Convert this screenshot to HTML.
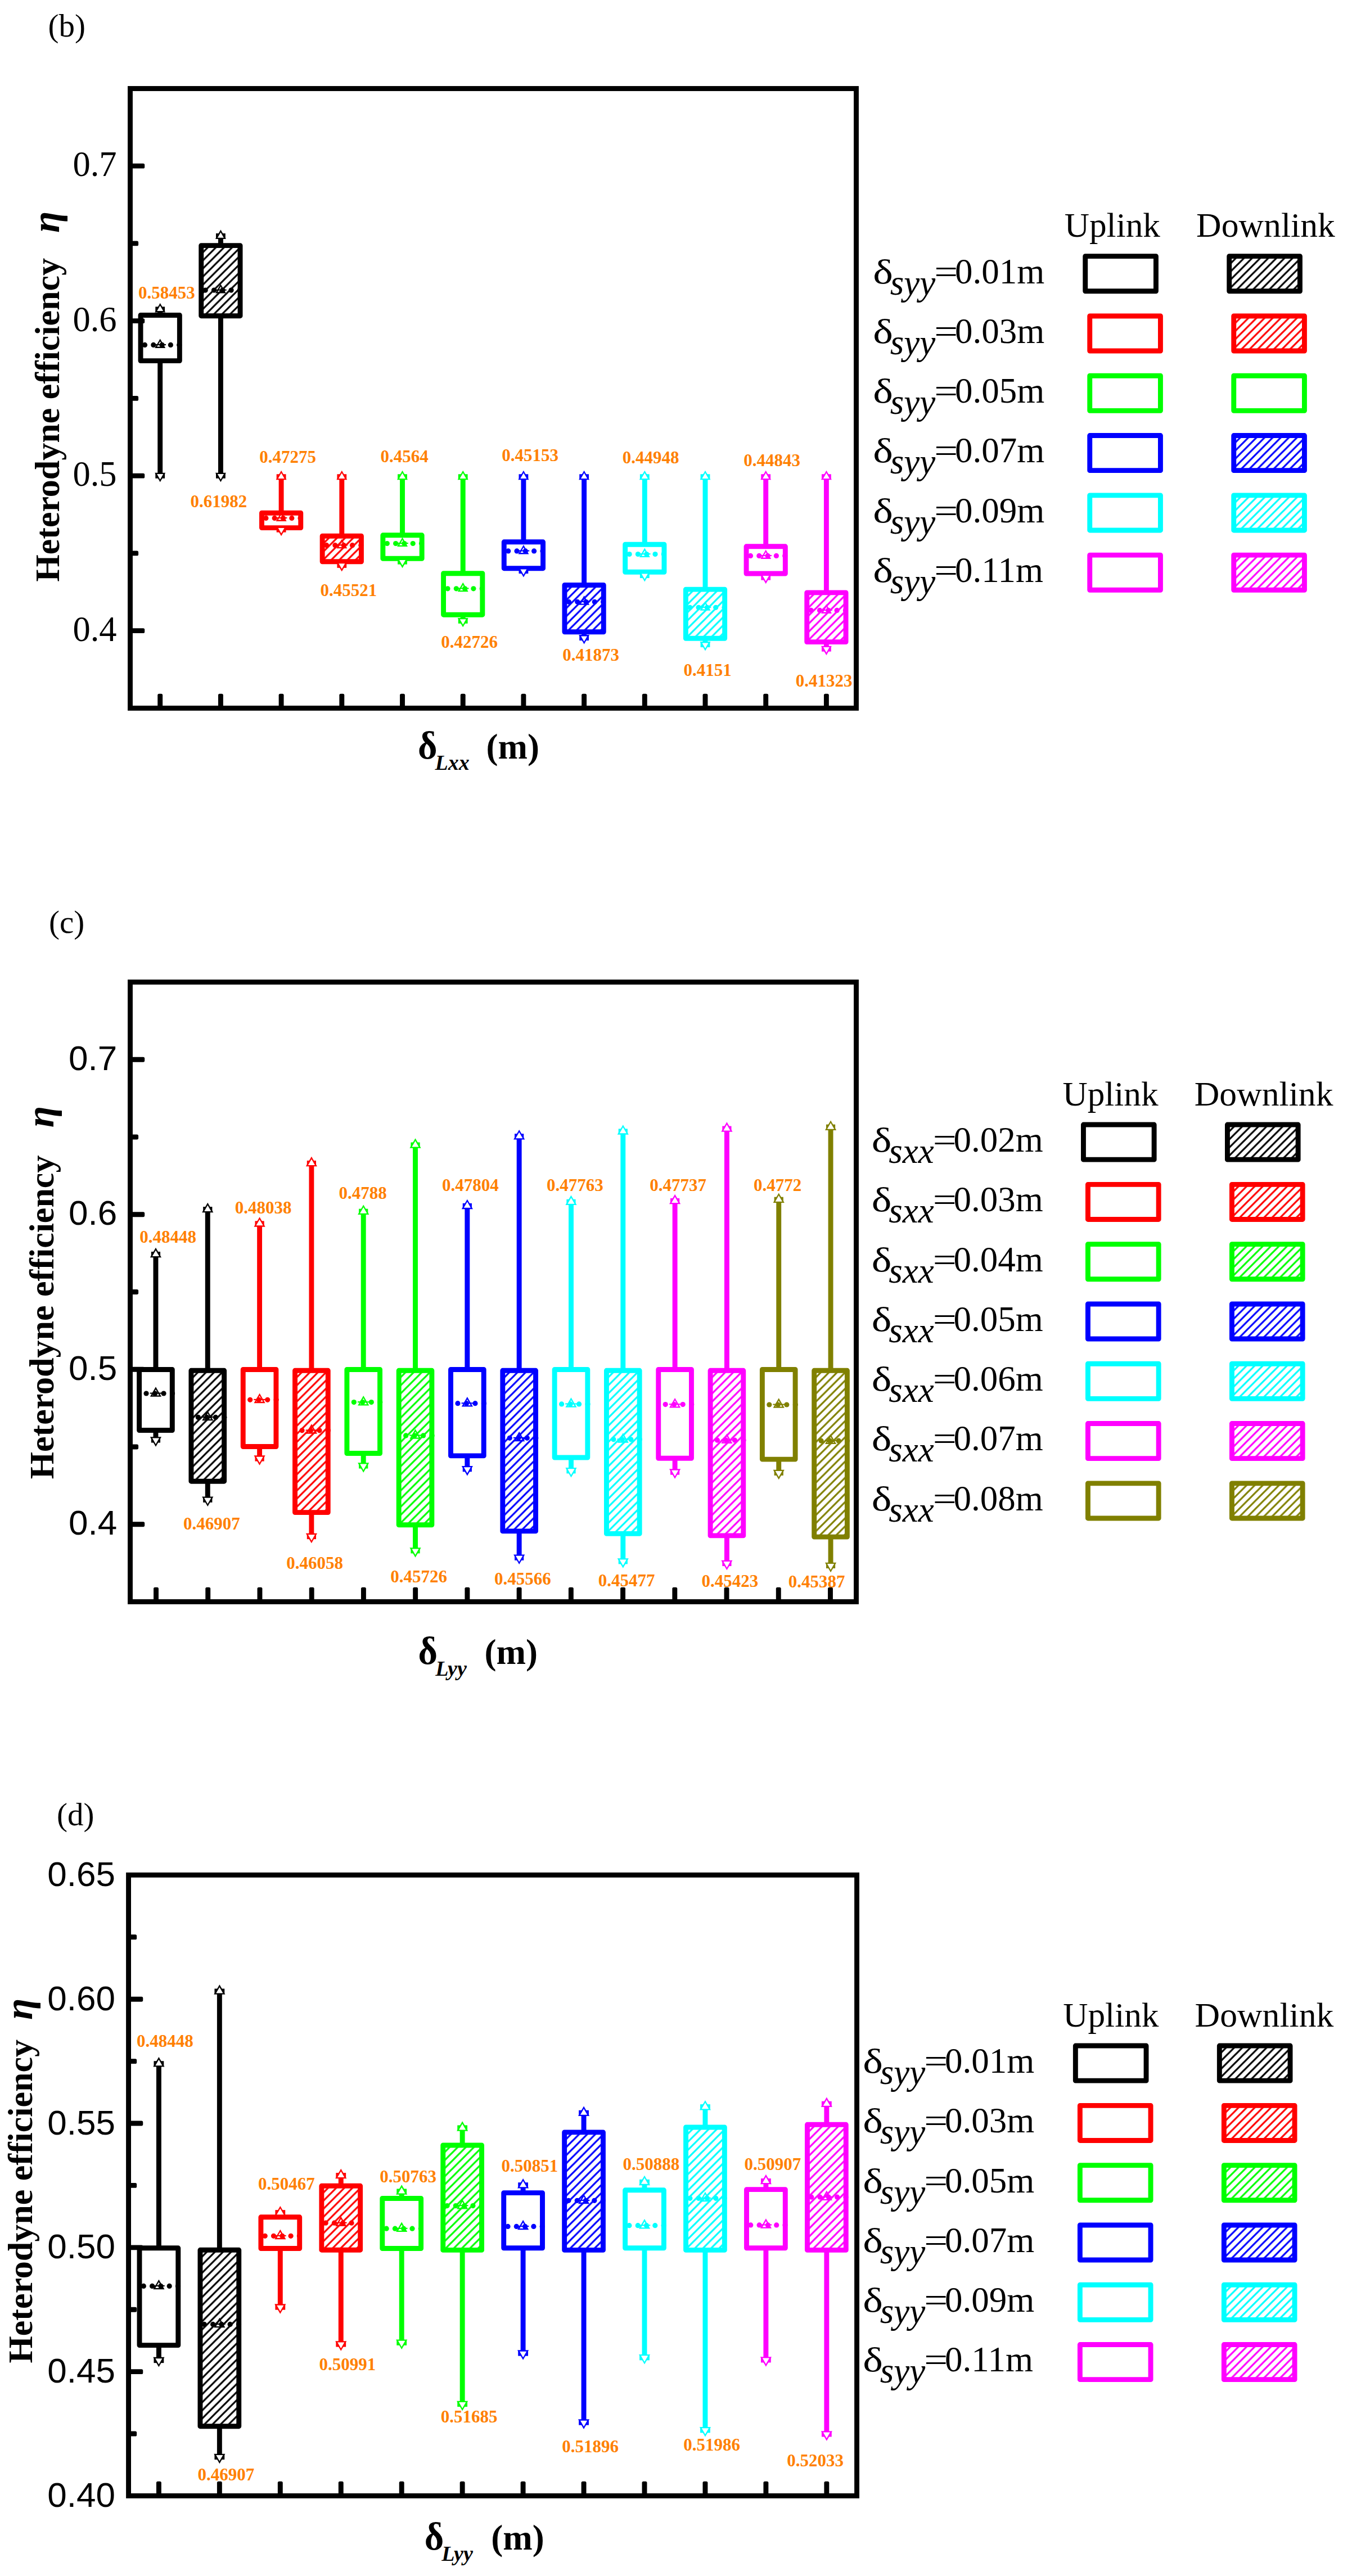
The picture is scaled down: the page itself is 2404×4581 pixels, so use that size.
<!DOCTYPE html>
<html><head><meta charset="utf-8"><title>Heterodyne efficiency box plots</title>
<style>html,body{margin:0;padding:0;background:#fff}svg{display:block}</style></head><body>
<svg width="2404" height="4581" viewBox="0 0 2404 4581">
<defs>
<pattern id="hk" patternUnits="userSpaceOnUse" width="14.4" height="14.4" patternTransform="translate(0.8,0)">
<rect width="14.4" height="14.4" fill="#fff"/>
<path d="M-2,16.4 L16.4,-2 M12.4,16.4 L16.4,12.4 M-2,2 L2,-2" stroke="#000000" stroke-width="3.2" fill="none"/>
</pattern>
<pattern id="hr" patternUnits="userSpaceOnUse" width="14.4" height="14.4" patternTransform="translate(0.8,0)">
<rect width="14.4" height="14.4" fill="#fff"/>
<path d="M-2,16.4 L16.4,-2 M12.4,16.4 L16.4,12.4 M-2,2 L2,-2" stroke="#ff0000" stroke-width="3.2" fill="none"/>
</pattern>
<pattern id="hg" patternUnits="userSpaceOnUse" width="14.4" height="14.4" patternTransform="translate(0.8,0)">
<rect width="14.4" height="14.4" fill="#fff"/>
<path d="M-2,16.4 L16.4,-2 M12.4,16.4 L16.4,12.4 M-2,2 L2,-2" stroke="#00ff00" stroke-width="3.2" fill="none"/>
</pattern>
<pattern id="hb" patternUnits="userSpaceOnUse" width="14.4" height="14.4" patternTransform="translate(0.8,0)">
<rect width="14.4" height="14.4" fill="#fff"/>
<path d="M-2,16.4 L16.4,-2 M12.4,16.4 L16.4,12.4 M-2,2 L2,-2" stroke="#0000ff" stroke-width="3.2" fill="none"/>
</pattern>
<pattern id="hc" patternUnits="userSpaceOnUse" width="14.4" height="14.4" patternTransform="translate(0.8,0)">
<rect width="14.4" height="14.4" fill="#fff"/>
<path d="M-2,16.4 L16.4,-2 M12.4,16.4 L16.4,12.4 M-2,2 L2,-2" stroke="#00ffff" stroke-width="3.2" fill="none"/>
</pattern>
<pattern id="hm" patternUnits="userSpaceOnUse" width="14.4" height="14.4" patternTransform="translate(0.8,0)">
<rect width="14.4" height="14.4" fill="#fff"/>
<path d="M-2,16.4 L16.4,-2 M12.4,16.4 L16.4,12.4 M-2,2 L2,-2" stroke="#ff00ff" stroke-width="3.2" fill="none"/>
</pattern>
<pattern id="ho" patternUnits="userSpaceOnUse" width="14.4" height="14.4" patternTransform="translate(0.8,0)">
<rect width="14.4" height="14.4" fill="#fff"/>
<path d="M-2,16.4 L16.4,-2 M12.4,16.4 L16.4,12.4 M-2,2 L2,-2" stroke="#808000" stroke-width="3.2" fill="none"/>
</pattern>
</defs>
<rect width="2404" height="4581" fill="#fff"/>
<text x="85.5" y="64.6" font-family='"Liberation Serif", serif' font-size="57" font-weight="normal" font-style="normal" text-anchor="start">(b)</text>
<text x="207.5" y="1139.9" font-family='"Liberation Serif", serif' font-size="62.5" font-weight="normal" font-style="normal" text-anchor="end">0.4</text>
<text x="207.5" y="864.4" font-family='"Liberation Serif", serif' font-size="62.5" font-weight="normal" font-style="normal" text-anchor="end">0.5</text>
<text x="207.5" y="588.9" font-family='"Liberation Serif", serif' font-size="62.5" font-weight="normal" font-style="normal" text-anchor="end">0.6</text>
<text x="207.5" y="313.4" font-family='"Liberation Serif", serif' font-size="62.5" font-weight="normal" font-style="normal" text-anchor="end">0.7</text>
<text transform="translate(104.8,1034.5) rotate(-90)" font-family='"Liberation Serif", serif' font-size="62" font-weight="bold" xml:space="preserve">Heterodyne efficiency<tspan x="620.5" font-size="70" font-style="italic">η</tspan></text>
<text transform="translate(743,1348.9) scale(1.07,1.13)" font-family='"Liberation Serif", serif' font-size="62" font-weight="bold">δ</text>
<text x="773.5" y="1369.2" font-family='"Liberation Serif", serif' font-size="38" font-weight="bold" font-style="italic" text-anchor="start">Lxx</text>
<text x="864.5" y="1348.9" font-family='"Liberation Serif", serif' font-size="63" font-weight="bold" font-style="normal" text-anchor="start">(m)</text>
<line x1="284.7" y1="549.9" x2="284.7" y2="846.3" stroke="#000000" stroke-width="8.9"/>
<rect transform="translate(250.05,560.5)" width="69.3" height="81.1" fill="#fff" stroke="#000000" stroke-width="8.9" stroke-linejoin="round"/>
<polygon points="284.7,604.74 277.2,617.73 292.2,617.73" fill="none" stroke="#000000" stroke-width="2.3" stroke-linejoin="miter"/>
<line x1="274.4" y1="613" x2="295" y2="613" stroke="#000000" stroke-width="2.1"/>
<circle cx="257.5" cy="613.4" r="4.6" fill="#000000"/>
<circle cx="272.8" cy="613.4" r="4.6" fill="#000000"/>
<circle cx="288.1" cy="613.4" r="4.6" fill="#000000"/>
<circle cx="303.4" cy="613.4" r="4.6" fill="#000000"/>
<circle cx="318.7" cy="613.4" r="4.6" fill="#000000"/>
<line x1="276.3" y1="549.9" x2="293.1" y2="549.9" stroke="#000000" stroke-width="8.9"/>
<line x1="276.3" y1="846.3" x2="293.1" y2="846.3" stroke="#000000" stroke-width="8.9"/>
<polygon points="284.7,541.24 277.2,554.23 292.2,554.23" fill="#fff" stroke="#000000" stroke-width="2.3" stroke-linejoin="miter"/>
<polygon points="284.7,854.96 277.2,841.97 292.2,841.97" fill="#fff" stroke="#000000" stroke-width="2.3" stroke-linejoin="miter"/>
<line x1="392.4" y1="419.5" x2="392.4" y2="846.3" stroke="#000000" stroke-width="8.9"/>
<rect transform="translate(357.75,436.6)" width="69.3" height="125.1" fill="url(#hk)" stroke="#000000" stroke-width="8.9" stroke-linejoin="round"/>
<polygon points="392.4,507.44 384.9,520.43 399.9,520.43" fill="none" stroke="#000000" stroke-width="2.3" stroke-linejoin="miter"/>
<line x1="382.1" y1="515.7" x2="402.7" y2="515.7" stroke="#000000" stroke-width="2.1"/>
<circle cx="365.2" cy="516.1" r="4.6" fill="#000000"/>
<circle cx="380.5" cy="516.1" r="4.6" fill="#000000"/>
<circle cx="395.8" cy="516.1" r="4.6" fill="#000000"/>
<circle cx="411.1" cy="516.1" r="4.6" fill="#000000"/>
<circle cx="426.4" cy="516.1" r="4.6" fill="#000000"/>
<line x1="384" y1="419.5" x2="400.8" y2="419.5" stroke="#000000" stroke-width="8.9"/>
<line x1="384" y1="846.3" x2="400.8" y2="846.3" stroke="#000000" stroke-width="8.9"/>
<polygon points="392.4,410.84 384.9,423.83 399.9,423.83" fill="#fff" stroke="#000000" stroke-width="2.3" stroke-linejoin="miter"/>
<polygon points="392.4,854.96 384.9,841.97 399.9,841.97" fill="#fff" stroke="#000000" stroke-width="2.3" stroke-linejoin="miter"/>
<line x1="500.1" y1="847.7" x2="500.1" y2="942.2" stroke="#ff0000" stroke-width="8.9"/>
<rect transform="translate(465.45,912.2)" width="69.3" height="26.4" fill="#fff" stroke="#ff0000" stroke-width="8.9" stroke-linejoin="round"/>
<polygon points="500.1,912.74 492.6,925.73 507.6,925.73" fill="none" stroke="#ff0000" stroke-width="2.3" stroke-linejoin="miter"/>
<line x1="489.8" y1="921" x2="510.4" y2="921" stroke="#ff0000" stroke-width="2.1"/>
<circle cx="472.9" cy="921.4" r="4.6" fill="#ff0000"/>
<circle cx="488.2" cy="921.4" r="4.6" fill="#ff0000"/>
<circle cx="503.5" cy="921.4" r="4.6" fill="#ff0000"/>
<circle cx="518.8" cy="921.4" r="4.6" fill="#ff0000"/>
<circle cx="534.1" cy="921.4" r="4.6" fill="#ff0000"/>
<line x1="491.7" y1="847.7" x2="508.5" y2="847.7" stroke="#ff0000" stroke-width="8.9"/>
<line x1="491.7" y1="942.2" x2="508.5" y2="942.2" stroke="#ff0000" stroke-width="8.9"/>
<polygon points="500.1,839.04 492.6,852.03 507.6,852.03" fill="#fff" stroke="#ff0000" stroke-width="2.3" stroke-linejoin="miter"/>
<polygon points="500.1,950.86 492.6,937.87 507.6,937.87" fill="#fff" stroke="#ff0000" stroke-width="2.3" stroke-linejoin="miter"/>
<line x1="607.8" y1="847.7" x2="607.8" y2="1005.4" stroke="#ff0000" stroke-width="8.9"/>
<rect transform="translate(573.15,953.2)" width="69.3" height="45.6" fill="url(#hr)" stroke="#ff0000" stroke-width="8.9" stroke-linejoin="round"/>
<polygon points="607.8,961.04 600.3,974.03 615.3,974.03" fill="none" stroke="#ff0000" stroke-width="2.3" stroke-linejoin="miter"/>
<line x1="597.5" y1="969.3" x2="618.1" y2="969.3" stroke="#ff0000" stroke-width="2.1"/>
<circle cx="580.6" cy="969.7" r="4.6" fill="#ff0000"/>
<circle cx="595.9" cy="969.7" r="4.6" fill="#ff0000"/>
<circle cx="611.2" cy="969.7" r="4.6" fill="#ff0000"/>
<circle cx="626.5" cy="969.7" r="4.6" fill="#ff0000"/>
<circle cx="641.8" cy="969.7" r="4.6" fill="#ff0000"/>
<line x1="599.4" y1="847.7" x2="616.2" y2="847.7" stroke="#ff0000" stroke-width="8.9"/>
<line x1="599.4" y1="1005.4" x2="616.2" y2="1005.4" stroke="#ff0000" stroke-width="8.9"/>
<polygon points="607.8,839.04 600.3,852.03 615.3,852.03" fill="#fff" stroke="#ff0000" stroke-width="2.3" stroke-linejoin="miter"/>
<polygon points="607.8,1014.06 600.3,1001.07 615.3,1001.07" fill="#fff" stroke="#ff0000" stroke-width="2.3" stroke-linejoin="miter"/>
<line x1="715.5" y1="847.7" x2="715.5" y2="999.2" stroke="#00ff00" stroke-width="8.9"/>
<rect transform="translate(680.85,951.8)" width="69.3" height="41.5" fill="#fff" stroke="#00ff00" stroke-width="8.9" stroke-linejoin="round"/>
<polygon points="715.5,957.84 708,970.83 723,970.83" fill="none" stroke="#00ff00" stroke-width="2.3" stroke-linejoin="miter"/>
<line x1="705.2" y1="966.1" x2="725.8" y2="966.1" stroke="#00ff00" stroke-width="2.1"/>
<circle cx="688.3" cy="966.5" r="4.6" fill="#00ff00"/>
<circle cx="703.6" cy="966.5" r="4.6" fill="#00ff00"/>
<circle cx="718.9" cy="966.5" r="4.6" fill="#00ff00"/>
<circle cx="734.2" cy="966.5" r="4.6" fill="#00ff00"/>
<circle cx="749.5" cy="966.5" r="4.6" fill="#00ff00"/>
<line x1="707.1" y1="847.7" x2="723.9" y2="847.7" stroke="#00ff00" stroke-width="8.9"/>
<line x1="707.1" y1="999.2" x2="723.9" y2="999.2" stroke="#00ff00" stroke-width="8.9"/>
<polygon points="715.5,839.04 708,852.03 723,852.03" fill="#fff" stroke="#00ff00" stroke-width="2.3" stroke-linejoin="miter"/>
<polygon points="715.5,1007.86 708,994.87 723,994.87" fill="#fff" stroke="#00ff00" stroke-width="2.3" stroke-linejoin="miter"/>
<line x1="823.2" y1="847.7" x2="823.2" y2="1104.4" stroke="#00ff00" stroke-width="8.9"/>
<rect transform="translate(788.55,1019.7)" width="69.3" height="73.5" fill="#fff" stroke="#00ff00" stroke-width="8.9" stroke-linejoin="round"/>
<polygon points="823.2,1038.14 815.7,1051.13 830.7,1051.13" fill="none" stroke="#00ff00" stroke-width="2.3" stroke-linejoin="miter"/>
<line x1="812.9" y1="1046.4" x2="833.5" y2="1046.4" stroke="#00ff00" stroke-width="2.1"/>
<circle cx="796" cy="1046.8" r="4.6" fill="#00ff00"/>
<circle cx="811.3" cy="1046.8" r="4.6" fill="#00ff00"/>
<circle cx="826.6" cy="1046.8" r="4.6" fill="#00ff00"/>
<circle cx="841.9" cy="1046.8" r="4.6" fill="#00ff00"/>
<circle cx="857.2" cy="1046.8" r="4.6" fill="#00ff00"/>
<line x1="814.8" y1="847.7" x2="831.6" y2="847.7" stroke="#00ff00" stroke-width="8.9"/>
<line x1="814.8" y1="1104.4" x2="831.6" y2="1104.4" stroke="#00ff00" stroke-width="8.9"/>
<polygon points="823.2,839.04 815.7,852.03 830.7,852.03" fill="#fff" stroke="#00ff00" stroke-width="2.3" stroke-linejoin="miter"/>
<polygon points="823.2,1113.06 815.7,1100.07 830.7,1100.07" fill="#fff" stroke="#00ff00" stroke-width="2.3" stroke-linejoin="miter"/>
<line x1="930.9" y1="847.7" x2="930.9" y2="1015.6" stroke="#0000ff" stroke-width="8.9"/>
<rect transform="translate(896.25,963.8)" width="69.3" height="46.9" fill="#fff" stroke="#0000ff" stroke-width="8.9" stroke-linejoin="round"/>
<polygon points="930.9,971.24 923.4,984.23 938.4,984.23" fill="none" stroke="#0000ff" stroke-width="2.3" stroke-linejoin="miter"/>
<line x1="920.6" y1="979.5" x2="941.2" y2="979.5" stroke="#0000ff" stroke-width="2.1"/>
<circle cx="903.7" cy="979.9" r="4.6" fill="#0000ff"/>
<circle cx="919" cy="979.9" r="4.6" fill="#0000ff"/>
<circle cx="934.3" cy="979.9" r="4.6" fill="#0000ff"/>
<circle cx="949.6" cy="979.9" r="4.6" fill="#0000ff"/>
<circle cx="964.9" cy="979.9" r="4.6" fill="#0000ff"/>
<line x1="922.5" y1="847.7" x2="939.3" y2="847.7" stroke="#0000ff" stroke-width="8.9"/>
<line x1="922.5" y1="1015.6" x2="939.3" y2="1015.6" stroke="#0000ff" stroke-width="8.9"/>
<polygon points="930.9,839.04 923.4,852.03 938.4,852.03" fill="#fff" stroke="#0000ff" stroke-width="2.3" stroke-linejoin="miter"/>
<polygon points="930.9,1024.26 923.4,1011.27 938.4,1011.27" fill="#fff" stroke="#0000ff" stroke-width="2.3" stroke-linejoin="miter"/>
<line x1="1038.6" y1="847.7" x2="1038.6" y2="1134.6" stroke="#0000ff" stroke-width="8.9"/>
<rect transform="translate(1003.95,1040.5)" width="69.3" height="83.3" fill="url(#hb)" stroke="#0000ff" stroke-width="8.9" stroke-linejoin="round"/>
<polygon points="1038.6,1061.64 1031.1,1074.63 1046.1,1074.63" fill="none" stroke="#0000ff" stroke-width="2.3" stroke-linejoin="miter"/>
<line x1="1028.3" y1="1069.9" x2="1048.9" y2="1069.9" stroke="#0000ff" stroke-width="2.1"/>
<circle cx="1011.4" cy="1070.3" r="4.6" fill="#0000ff"/>
<circle cx="1026.7" cy="1070.3" r="4.6" fill="#0000ff"/>
<circle cx="1042" cy="1070.3" r="4.6" fill="#0000ff"/>
<circle cx="1057.3" cy="1070.3" r="4.6" fill="#0000ff"/>
<circle cx="1072.6" cy="1070.3" r="4.6" fill="#0000ff"/>
<line x1="1030.2" y1="847.7" x2="1047" y2="847.7" stroke="#0000ff" stroke-width="8.9"/>
<line x1="1030.2" y1="1134.6" x2="1047" y2="1134.6" stroke="#0000ff" stroke-width="8.9"/>
<polygon points="1038.6,839.04 1031.1,852.03 1046.1,852.03" fill="#fff" stroke="#0000ff" stroke-width="2.3" stroke-linejoin="miter"/>
<polygon points="1038.6,1143.26 1031.1,1130.27 1046.1,1130.27" fill="#fff" stroke="#0000ff" stroke-width="2.3" stroke-linejoin="miter"/>
<line x1="1146.3" y1="847.7" x2="1146.3" y2="1023.6" stroke="#00ffff" stroke-width="8.9"/>
<rect transform="translate(1111.65,968.2)" width="69.3" height="49.1" fill="#fff" stroke="#00ffff" stroke-width="8.9" stroke-linejoin="round"/>
<polygon points="1146.3,976.84 1138.8,989.83 1153.8,989.83" fill="none" stroke="#00ffff" stroke-width="2.3" stroke-linejoin="miter"/>
<line x1="1136" y1="985.1" x2="1156.6" y2="985.1" stroke="#00ffff" stroke-width="2.1"/>
<circle cx="1119.1" cy="985.5" r="4.6" fill="#00ffff"/>
<circle cx="1134.4" cy="985.5" r="4.6" fill="#00ffff"/>
<circle cx="1149.7" cy="985.5" r="4.6" fill="#00ffff"/>
<circle cx="1165" cy="985.5" r="4.6" fill="#00ffff"/>
<circle cx="1180.3" cy="985.5" r="4.6" fill="#00ffff"/>
<line x1="1137.9" y1="847.7" x2="1154.7" y2="847.7" stroke="#00ffff" stroke-width="8.9"/>
<line x1="1137.9" y1="1023.6" x2="1154.7" y2="1023.6" stroke="#00ffff" stroke-width="8.9"/>
<polygon points="1146.3,839.04 1138.8,852.03 1153.8,852.03" fill="#fff" stroke="#00ffff" stroke-width="2.3" stroke-linejoin="miter"/>
<polygon points="1146.3,1032.26 1138.8,1019.27 1153.8,1019.27" fill="#fff" stroke="#00ffff" stroke-width="2.3" stroke-linejoin="miter"/>
<line x1="1254" y1="847.7" x2="1254" y2="1146.6" stroke="#00ffff" stroke-width="8.9"/>
<rect transform="translate(1219.35,1048.1)" width="69.3" height="87.2" fill="url(#hc)" stroke="#00ffff" stroke-width="8.9" stroke-linejoin="round"/>
<polygon points="1254,1071.64 1246.5,1084.63 1261.5,1084.63" fill="none" stroke="#00ffff" stroke-width="2.3" stroke-linejoin="miter"/>
<line x1="1243.7" y1="1079.9" x2="1264.3" y2="1079.9" stroke="#00ffff" stroke-width="2.1"/>
<circle cx="1226.8" cy="1080.3" r="4.6" fill="#00ffff"/>
<circle cx="1242.1" cy="1080.3" r="4.6" fill="#00ffff"/>
<circle cx="1257.4" cy="1080.3" r="4.6" fill="#00ffff"/>
<circle cx="1272.7" cy="1080.3" r="4.6" fill="#00ffff"/>
<circle cx="1288" cy="1080.3" r="4.6" fill="#00ffff"/>
<line x1="1245.6" y1="847.7" x2="1262.4" y2="847.7" stroke="#00ffff" stroke-width="8.9"/>
<line x1="1245.6" y1="1146.6" x2="1262.4" y2="1146.6" stroke="#00ffff" stroke-width="8.9"/>
<polygon points="1254,839.04 1246.5,852.03 1261.5,852.03" fill="#fff" stroke="#00ffff" stroke-width="2.3" stroke-linejoin="miter"/>
<polygon points="1254,1155.26 1246.5,1142.27 1261.5,1142.27" fill="#fff" stroke="#00ffff" stroke-width="2.3" stroke-linejoin="miter"/>
<line x1="1361.7" y1="847.7" x2="1361.7" y2="1027.2" stroke="#ff00ff" stroke-width="8.9"/>
<rect transform="translate(1327.05,971.8)" width="69.3" height="48.2" fill="#fff" stroke="#ff00ff" stroke-width="8.9" stroke-linejoin="round"/>
<polygon points="1361.7,979.74 1354.2,992.73 1369.2,992.73" fill="none" stroke="#ff00ff" stroke-width="2.3" stroke-linejoin="miter"/>
<line x1="1351.4" y1="988" x2="1372" y2="988" stroke="#ff00ff" stroke-width="2.1"/>
<circle cx="1334.5" cy="988.4" r="4.6" fill="#ff00ff"/>
<circle cx="1349.8" cy="988.4" r="4.6" fill="#ff00ff"/>
<circle cx="1365.1" cy="988.4" r="4.6" fill="#ff00ff"/>
<circle cx="1380.4" cy="988.4" r="4.6" fill="#ff00ff"/>
<circle cx="1395.7" cy="988.4" r="4.6" fill="#ff00ff"/>
<line x1="1353.3" y1="847.7" x2="1370.1" y2="847.7" stroke="#ff00ff" stroke-width="8.9"/>
<line x1="1353.3" y1="1027.2" x2="1370.1" y2="1027.2" stroke="#ff00ff" stroke-width="8.9"/>
<polygon points="1361.7,839.04 1354.2,852.03 1369.2,852.03" fill="#fff" stroke="#ff00ff" stroke-width="2.3" stroke-linejoin="miter"/>
<polygon points="1361.7,1035.86 1354.2,1022.87 1369.2,1022.87" fill="#fff" stroke="#ff00ff" stroke-width="2.3" stroke-linejoin="miter"/>
<line x1="1469.4" y1="847.7" x2="1469.4" y2="1154.2" stroke="#ff00ff" stroke-width="8.9"/>
<rect transform="translate(1434.75,1053.9)" width="69.3" height="87.7" fill="url(#hm)" stroke="#ff00ff" stroke-width="8.9" stroke-linejoin="round"/>
<polygon points="1469.4,1076.74 1461.9,1089.73 1476.9,1089.73" fill="none" stroke="#ff00ff" stroke-width="2.3" stroke-linejoin="miter"/>
<line x1="1459.1" y1="1085" x2="1479.7" y2="1085" stroke="#ff00ff" stroke-width="2.1"/>
<circle cx="1442.2" cy="1085.4" r="4.6" fill="#ff00ff"/>
<circle cx="1457.5" cy="1085.4" r="4.6" fill="#ff00ff"/>
<circle cx="1472.8" cy="1085.4" r="4.6" fill="#ff00ff"/>
<circle cx="1488.1" cy="1085.4" r="4.6" fill="#ff00ff"/>
<circle cx="1503.4" cy="1085.4" r="4.6" fill="#ff00ff"/>
<line x1="1461" y1="847.7" x2="1477.8" y2="847.7" stroke="#ff00ff" stroke-width="8.9"/>
<line x1="1461" y1="1154.2" x2="1477.8" y2="1154.2" stroke="#ff00ff" stroke-width="8.9"/>
<polygon points="1469.4,839.04 1461.9,852.03 1476.9,852.03" fill="#fff" stroke="#ff00ff" stroke-width="2.3" stroke-linejoin="miter"/>
<polygon points="1469.4,1162.86 1461.9,1149.87 1476.9,1149.87" fill="#fff" stroke="#ff00ff" stroke-width="2.3" stroke-linejoin="miter"/>
<rect x="231.5" y="1117.15" width="25.7" height="8.9" rx="2.6" fill="#000"/>
<rect x="231.5" y="841.65" width="25.7" height="8.9" rx="2.6" fill="#000"/>
<rect x="231.5" y="566.15" width="25.7" height="8.9" rx="2.6" fill="#000"/>
<rect x="231.5" y="290.65" width="25.7" height="8.9" rx="2.6" fill="#000"/>
<rect x="231.5" y="979.4" width="14.6" height="8.9" rx="2.6" fill="#000"/>
<rect x="231.5" y="703.9" width="14.6" height="8.9" rx="2.6" fill="#000"/>
<rect x="231.5" y="428.4" width="14.6" height="8.9" rx="2.6" fill="#000"/>
<rect x="280.25" y="1233.65" width="8.9" height="25.7" rx="2.6" fill="#000"/>
<rect x="387.95" y="1233.65" width="8.9" height="25.7" rx="2.6" fill="#000"/>
<rect x="495.65" y="1233.65" width="8.9" height="25.7" rx="2.6" fill="#000"/>
<rect x="603.35" y="1233.65" width="8.9" height="25.7" rx="2.6" fill="#000"/>
<rect x="711.05" y="1233.65" width="8.9" height="25.7" rx="2.6" fill="#000"/>
<rect x="818.75" y="1233.65" width="8.9" height="25.7" rx="2.6" fill="#000"/>
<rect x="926.45" y="1233.65" width="8.9" height="25.7" rx="2.6" fill="#000"/>
<rect x="1034.15" y="1233.65" width="8.9" height="25.7" rx="2.6" fill="#000"/>
<rect x="1141.85" y="1233.65" width="8.9" height="25.7" rx="2.6" fill="#000"/>
<rect x="1249.55" y="1233.65" width="8.9" height="25.7" rx="2.6" fill="#000"/>
<rect x="1357.25" y="1233.65" width="8.9" height="25.7" rx="2.6" fill="#000"/>
<rect x="1464.95" y="1233.65" width="8.9" height="25.7" rx="2.6" fill="#000"/>
<rect x="231.5" y="157.5" width="1291" height="1101.85" fill="none" stroke="#000" stroke-width="8.9"/>
<text x="246" y="530.5" fill="#ff8000" font-family='"Liberation Serif", serif' font-weight="bold" font-size="31">0.58453</text>
<text x="338.5" y="902.1" fill="#ff8000" font-family='"Liberation Serif", serif' font-weight="bold" font-size="31">0.61982</text>
<text x="461.2" y="823.1" fill="#ff8000" font-family='"Liberation Serif", serif' font-weight="bold" font-size="31">0.47275</text>
<text x="569.5" y="1059.6" fill="#ff8000" font-family='"Liberation Serif", serif' font-weight="bold" font-size="31">0.45521</text>
<text x="676.5" y="822.2" fill="#ff8000" font-family='"Liberation Serif", serif' font-weight="bold" font-size="31">0.4564</text>
<text x="784.2" y="1151.9" fill="#ff8000" font-family='"Liberation Serif", serif' font-weight="bold" font-size="31">0.42726</text>
<text x="892.3" y="820" fill="#ff8000" font-family='"Liberation Serif", serif' font-weight="bold" font-size="31">0.45153</text>
<text x="1000.2" y="1175" fill="#ff8000" font-family='"Liberation Serif", serif' font-weight="bold" font-size="31">0.41873</text>
<text x="1106.8" y="824.4" fill="#ff8000" font-family='"Liberation Serif", serif' font-weight="bold" font-size="31">0.44948</text>
<text x="1215.5" y="1201.6" fill="#ff8000" font-family='"Liberation Serif", serif' font-weight="bold" font-size="31">0.4151</text>
<text x="1322.3" y="828.9" fill="#ff8000" font-family='"Liberation Serif", serif' font-weight="bold" font-size="31">0.44843</text>
<text x="1414.7" y="1220.7" fill="#ff8000" font-family='"Liberation Serif", serif' font-weight="bold" font-size="31">0.41323</text>
<text x="1892.7" y="421.2" font-family='"Liberation Serif", serif' font-size="61.3" font-weight="normal" font-style="normal" text-anchor="start">Uplink</text>
<text x="2127.1" y="421.2" font-family='"Liberation Serif", serif' font-size="61.7" font-weight="normal" font-style="normal" text-anchor="start">Downlink</text>
<text transform="translate(1552.3,503.5) scale(1.22,1.0)" font-family='"Liberation Serif", serif' font-size="62" font-weight="normal">δ</text>
<text x="1582.8" y="523.5" font-family='"Liberation Serif", serif' font-size="63" font-weight="normal" font-style="italic" text-anchor="start">syy</text>
<text transform="translate(1661.3,503.5) scale(1.2,1.0)" font-family='"Liberation Serif", serif' font-size="62" font-weight="normal">=</text>
<text x="1698.1" y="503.5" font-family='"Liberation Serif", serif' font-size="63" font-weight="normal" font-style="normal" text-anchor="start">0.01m</text>
<rect x="1929.75" y="455.65" width="125.7" height="62.1" fill="#fff" stroke="#000000" stroke-width="8.9" stroke-linejoin="round"/>
<rect transform="translate(2185.75,455.65)" width="125.7" height="62.1" fill="url(#hk)" stroke="#000000" stroke-width="8.9" stroke-linejoin="round"/>
<text transform="translate(1552.3,609.8) scale(1.22,1.0)" font-family='"Liberation Serif", serif' font-size="62" font-weight="normal">δ</text>
<text x="1582.8" y="629.8" font-family='"Liberation Serif", serif' font-size="63" font-weight="normal" font-style="italic" text-anchor="start">syy</text>
<text transform="translate(1661.3,609.8) scale(1.2,1.0)" font-family='"Liberation Serif", serif' font-size="62" font-weight="normal">=</text>
<text x="1698.1" y="609.8" font-family='"Liberation Serif", serif' font-size="63" font-weight="normal" font-style="normal" text-anchor="start">0.03m</text>
<rect x="1937.75" y="561.95" width="125.7" height="62.1" fill="#fff" stroke="#ff0000" stroke-width="8.9" stroke-linejoin="round"/>
<rect transform="translate(2193.75,561.95)" width="125.7" height="62.1" fill="url(#hr)" stroke="#ff0000" stroke-width="8.9" stroke-linejoin="round"/>
<text transform="translate(1552.3,716.1) scale(1.22,1.0)" font-family='"Liberation Serif", serif' font-size="62" font-weight="normal">δ</text>
<text x="1582.8" y="736.1" font-family='"Liberation Serif", serif' font-size="63" font-weight="normal" font-style="italic" text-anchor="start">syy</text>
<text transform="translate(1661.3,716.1) scale(1.2,1.0)" font-family='"Liberation Serif", serif' font-size="62" font-weight="normal">=</text>
<text x="1698.1" y="716.1" font-family='"Liberation Serif", serif' font-size="63" font-weight="normal" font-style="normal" text-anchor="start">0.05m</text>
<rect x="1937.75" y="668.25" width="125.7" height="62.1" fill="#fff" stroke="#00ff00" stroke-width="8.9" stroke-linejoin="round"/>
<rect transform="translate(2193.75,668.25)" width="125.7" height="62.1" fill="#fff" stroke="#00ff00" stroke-width="8.9" stroke-linejoin="round"/>
<text transform="translate(1552.3,822.4) scale(1.22,1.0)" font-family='"Liberation Serif", serif' font-size="62" font-weight="normal">δ</text>
<text x="1582.8" y="842.4" font-family='"Liberation Serif", serif' font-size="63" font-weight="normal" font-style="italic" text-anchor="start">syy</text>
<text transform="translate(1661.3,822.4) scale(1.2,1.0)" font-family='"Liberation Serif", serif' font-size="62" font-weight="normal">=</text>
<text x="1698.1" y="822.4" font-family='"Liberation Serif", serif' font-size="63" font-weight="normal" font-style="normal" text-anchor="start">0.07m</text>
<rect x="1937.75" y="774.55" width="125.7" height="62.1" fill="#fff" stroke="#0000ff" stroke-width="8.9" stroke-linejoin="round"/>
<rect transform="translate(2193.75,774.55)" width="125.7" height="62.1" fill="url(#hb)" stroke="#0000ff" stroke-width="8.9" stroke-linejoin="round"/>
<text transform="translate(1552.3,928.7) scale(1.22,1.0)" font-family='"Liberation Serif", serif' font-size="62" font-weight="normal">δ</text>
<text x="1582.8" y="948.7" font-family='"Liberation Serif", serif' font-size="63" font-weight="normal" font-style="italic" text-anchor="start">syy</text>
<text transform="translate(1661.3,928.7) scale(1.2,1.0)" font-family='"Liberation Serif", serif' font-size="62" font-weight="normal">=</text>
<text x="1698.1" y="928.7" font-family='"Liberation Serif", serif' font-size="63" font-weight="normal" font-style="normal" text-anchor="start">0.09m</text>
<rect x="1937.75" y="880.85" width="125.7" height="62.1" fill="#fff" stroke="#00ffff" stroke-width="8.9" stroke-linejoin="round"/>
<rect transform="translate(2193.75,880.85)" width="125.7" height="62.1" fill="url(#hc)" stroke="#00ffff" stroke-width="8.9" stroke-linejoin="round"/>
<text transform="translate(1552.3,1035) scale(1.22,1.0)" font-family='"Liberation Serif", serif' font-size="62" font-weight="normal">δ</text>
<text x="1582.8" y="1055" font-family='"Liberation Serif", serif' font-size="63" font-weight="normal" font-style="italic" text-anchor="start">syy</text>
<text transform="translate(1661.3,1035) scale(1.2,1.0)" font-family='"Liberation Serif", serif' font-size="62" font-weight="normal">=</text>
<text x="1698.1" y="1035" font-family='"Liberation Serif", serif' font-size="63" font-weight="normal" font-style="normal" text-anchor="start">0.11m</text>
<rect x="1937.75" y="987.15" width="125.7" height="62.1" fill="#fff" stroke="#ff00ff" stroke-width="8.9" stroke-linejoin="round"/>
<rect transform="translate(2193.75,987.15)" width="125.7" height="62.1" fill="url(#hm)" stroke="#ff00ff" stroke-width="8.9" stroke-linejoin="round"/>
<text x="87" y="1658.8" font-family='"Liberation Serif", serif' font-size="57" font-weight="normal" font-style="normal" text-anchor="start">(c)</text>
<text x="208.2" y="2729" font-family='"Liberation Sans", sans-serif' font-size="62" font-weight="normal" font-style="normal" text-anchor="end">0.4</text>
<text x="208.2" y="2453.5" font-family='"Liberation Sans", sans-serif' font-size="62" font-weight="normal" font-style="normal" text-anchor="end">0.5</text>
<text x="208.2" y="2178" font-family='"Liberation Sans", sans-serif' font-size="62" font-weight="normal" font-style="normal" text-anchor="end">0.6</text>
<text x="208.2" y="1902.5" font-family='"Liberation Sans", sans-serif' font-size="62" font-weight="normal" font-style="normal" text-anchor="end">0.7</text>
<text transform="translate(94.6,2630.2) rotate(-90)" font-family='"Liberation Serif", serif' font-size="62" font-weight="bold" xml:space="preserve">Heterodyne efficiency<tspan x="625" font-size="70" font-style="italic">η</tspan></text>
<text transform="translate(743.5,2959.3) scale(1.07,1.13)" font-family='"Liberation Serif", serif' font-size="62" font-weight="bold">δ</text>
<text x="774.3" y="2979.6" font-family='"Liberation Serif", serif' font-size="38" font-weight="bold" font-style="italic" text-anchor="start">Lyy</text>
<text x="861.5" y="2959.3" font-family='"Liberation Serif", serif' font-size="63" font-weight="bold" font-style="normal" text-anchor="start">(m)</text>
<line x1="276.95" y1="2230.4" x2="276.95" y2="2561.1" stroke="#000000" stroke-width="8.9"/>
<rect transform="translate(247.6,2435.5)" width="58.7" height="108" fill="#fff" stroke="#000000" stroke-width="8.9" stroke-linejoin="round"/>
<polygon points="276.95,2468.65 268.85,2482.68 285.05,2482.68" fill="none" stroke="#000000" stroke-width="2.3" stroke-linejoin="miter"/>
<line x1="266.65" y1="2477.6" x2="287.25" y2="2477.6" stroke="#000000" stroke-width="2.1"/>
<circle cx="260.05" cy="2478" r="4.6" fill="#000000"/>
<circle cx="275.55" cy="2478" r="4.6" fill="#000000"/>
<circle cx="291.05" cy="2478" r="4.6" fill="#000000"/>
<circle cx="306.55" cy="2478" r="4.6" fill="#000000"/>
<line x1="268.85" y1="2230.4" x2="285.05" y2="2230.4" stroke="#000000" stroke-width="8.9"/>
<line x1="268.85" y1="2561.1" x2="285.05" y2="2561.1" stroke="#000000" stroke-width="8.9"/>
<polygon points="276.95,2221.05 268.85,2235.08 285.05,2235.08" fill="#fff" stroke="#000000" stroke-width="2.3" stroke-linejoin="miter"/>
<polygon points="276.95,2570.45 268.85,2556.42 285.05,2556.42" fill="#fff" stroke="#000000" stroke-width="2.3" stroke-linejoin="miter"/>
<line x1="369.26" y1="2150.5" x2="369.26" y2="2667.4" stroke="#000000" stroke-width="8.9"/>
<rect transform="translate(339.91,2437.3)" width="58.7" height="196.9" fill="url(#hk)" stroke="#000000" stroke-width="8.9" stroke-linejoin="round"/>
<polygon points="369.26,2511.05 361.16,2525.08 377.37,2525.08" fill="none" stroke="#000000" stroke-width="2.3" stroke-linejoin="miter"/>
<line x1="358.96" y1="2520" x2="379.56" y2="2520" stroke="#000000" stroke-width="2.1"/>
<circle cx="352.37" cy="2520.4" r="4.6" fill="#000000"/>
<circle cx="367.87" cy="2520.4" r="4.6" fill="#000000"/>
<circle cx="383.37" cy="2520.4" r="4.6" fill="#000000"/>
<circle cx="398.87" cy="2520.4" r="4.6" fill="#000000"/>
<line x1="361.16" y1="2150.5" x2="377.37" y2="2150.5" stroke="#000000" stroke-width="8.9"/>
<line x1="361.16" y1="2667.4" x2="377.37" y2="2667.4" stroke="#000000" stroke-width="8.9"/>
<polygon points="369.26,2141.15 361.16,2155.18 377.37,2155.18" fill="#fff" stroke="#000000" stroke-width="2.3" stroke-linejoin="miter"/>
<polygon points="369.26,2676.75 361.16,2662.72 377.37,2662.72" fill="#fff" stroke="#000000" stroke-width="2.3" stroke-linejoin="miter"/>
<line x1="461.58" y1="2175.8" x2="461.58" y2="2594.2" stroke="#ff0000" stroke-width="8.9"/>
<rect transform="translate(432.23,2435.5)" width="58.7" height="137" fill="#fff" stroke="#ff0000" stroke-width="8.9" stroke-linejoin="round"/>
<polygon points="461.58,2479.95 453.48,2493.98 469.68,2493.98" fill="none" stroke="#ff0000" stroke-width="2.3" stroke-linejoin="miter"/>
<line x1="451.28" y1="2488.9" x2="471.88" y2="2488.9" stroke="#ff0000" stroke-width="2.1"/>
<circle cx="444.68" cy="2489.3" r="4.6" fill="#ff0000"/>
<circle cx="460.18" cy="2489.3" r="4.6" fill="#ff0000"/>
<circle cx="475.68" cy="2489.3" r="4.6" fill="#ff0000"/>
<circle cx="491.18" cy="2489.3" r="4.6" fill="#ff0000"/>
<line x1="453.48" y1="2175.8" x2="469.68" y2="2175.8" stroke="#ff0000" stroke-width="8.9"/>
<line x1="453.48" y1="2594.2" x2="469.68" y2="2594.2" stroke="#ff0000" stroke-width="8.9"/>
<polygon points="461.58,2166.45 453.48,2180.48 469.68,2180.48" fill="#fff" stroke="#ff0000" stroke-width="2.3" stroke-linejoin="miter"/>
<polygon points="461.58,2603.55 453.48,2589.52 469.68,2589.52" fill="#fff" stroke="#ff0000" stroke-width="2.3" stroke-linejoin="miter"/>
<line x1="553.89" y1="2068.4" x2="553.89" y2="2732.7" stroke="#ff0000" stroke-width="8.9"/>
<rect transform="translate(524.54,2437.3)" width="58.7" height="252.3" fill="url(#hr)" stroke="#ff0000" stroke-width="8.9" stroke-linejoin="round"/>
<polygon points="553.89,2534.45 545.79,2548.48 562,2548.48" fill="none" stroke="#ff0000" stroke-width="2.3" stroke-linejoin="miter"/>
<line x1="543.6" y1="2543.4" x2="564.19" y2="2543.4" stroke="#ff0000" stroke-width="2.1"/>
<circle cx="537" cy="2543.8" r="4.6" fill="#ff0000"/>
<circle cx="552.5" cy="2543.8" r="4.6" fill="#ff0000"/>
<circle cx="568" cy="2543.8" r="4.6" fill="#ff0000"/>
<circle cx="583.5" cy="2543.8" r="4.6" fill="#ff0000"/>
<line x1="545.79" y1="2068.4" x2="562" y2="2068.4" stroke="#ff0000" stroke-width="8.9"/>
<line x1="545.79" y1="2732.7" x2="562" y2="2732.7" stroke="#ff0000" stroke-width="8.9"/>
<polygon points="553.89,2059.05 545.79,2073.08 562,2073.08" fill="#fff" stroke="#ff0000" stroke-width="2.3" stroke-linejoin="miter"/>
<polygon points="553.89,2742.05 545.79,2728.02 562,2728.02" fill="#fff" stroke="#ff0000" stroke-width="2.3" stroke-linejoin="miter"/>
<line x1="646.21" y1="2154.1" x2="646.21" y2="2607.1" stroke="#00ff00" stroke-width="8.9"/>
<rect transform="translate(616.86,2435.5)" width="58.7" height="149" fill="#fff" stroke="#00ff00" stroke-width="8.9" stroke-linejoin="round"/>
<polygon points="646.21,2484.25 638.11,2498.28 654.31,2498.28" fill="none" stroke="#00ff00" stroke-width="2.3" stroke-linejoin="miter"/>
<line x1="635.91" y1="2493.2" x2="656.51" y2="2493.2" stroke="#00ff00" stroke-width="2.1"/>
<circle cx="629.31" cy="2493.6" r="4.6" fill="#00ff00"/>
<circle cx="644.81" cy="2493.6" r="4.6" fill="#00ff00"/>
<circle cx="660.31" cy="2493.6" r="4.6" fill="#00ff00"/>
<circle cx="675.81" cy="2493.6" r="4.6" fill="#00ff00"/>
<line x1="638.11" y1="2154.1" x2="654.31" y2="2154.1" stroke="#00ff00" stroke-width="8.9"/>
<line x1="638.11" y1="2607.1" x2="654.31" y2="2607.1" stroke="#00ff00" stroke-width="8.9"/>
<polygon points="646.21,2144.75 638.11,2158.78 654.31,2158.78" fill="#fff" stroke="#00ff00" stroke-width="2.3" stroke-linejoin="miter"/>
<polygon points="646.21,2616.45 638.11,2602.42 654.31,2602.42" fill="#fff" stroke="#00ff00" stroke-width="2.3" stroke-linejoin="miter"/>
<line x1="738.52" y1="2036" x2="738.52" y2="2758" stroke="#00ff00" stroke-width="8.9"/>
<rect transform="translate(709.17,2437.3)" width="58.7" height="274.5" fill="url(#hg)" stroke="#00ff00" stroke-width="8.9" stroke-linejoin="round"/>
<polygon points="738.52,2543.55 730.42,2557.58 746.62,2557.58" fill="none" stroke="#00ff00" stroke-width="2.3" stroke-linejoin="miter"/>
<line x1="728.23" y1="2552.5" x2="748.82" y2="2552.5" stroke="#00ff00" stroke-width="2.1"/>
<circle cx="721.62" cy="2552.9" r="4.6" fill="#00ff00"/>
<circle cx="737.12" cy="2552.9" r="4.6" fill="#00ff00"/>
<circle cx="752.62" cy="2552.9" r="4.6" fill="#00ff00"/>
<circle cx="768.12" cy="2552.9" r="4.6" fill="#00ff00"/>
<line x1="730.42" y1="2036" x2="746.62" y2="2036" stroke="#00ff00" stroke-width="8.9"/>
<line x1="730.42" y1="2758" x2="746.62" y2="2758" stroke="#00ff00" stroke-width="8.9"/>
<polygon points="738.52,2026.65 730.42,2040.68 746.62,2040.68" fill="#fff" stroke="#00ff00" stroke-width="2.3" stroke-linejoin="miter"/>
<polygon points="738.52,2767.35 730.42,2753.32 746.62,2753.32" fill="#fff" stroke="#00ff00" stroke-width="2.3" stroke-linejoin="miter"/>
<line x1="830.84" y1="2144.3" x2="830.84" y2="2612.8" stroke="#0000ff" stroke-width="8.9"/>
<rect transform="translate(801.49,2435.5)" width="58.7" height="153.4" fill="#fff" stroke="#0000ff" stroke-width="8.9" stroke-linejoin="round"/>
<polygon points="830.84,2486.35 822.74,2500.38 838.94,2500.38" fill="none" stroke="#0000ff" stroke-width="2.3" stroke-linejoin="miter"/>
<line x1="820.54" y1="2495.3" x2="841.14" y2="2495.3" stroke="#0000ff" stroke-width="2.1"/>
<circle cx="813.94" cy="2495.7" r="4.6" fill="#0000ff"/>
<circle cx="829.44" cy="2495.7" r="4.6" fill="#0000ff"/>
<circle cx="844.94" cy="2495.7" r="4.6" fill="#0000ff"/>
<circle cx="860.44" cy="2495.7" r="4.6" fill="#0000ff"/>
<line x1="822.74" y1="2144.3" x2="838.94" y2="2144.3" stroke="#0000ff" stroke-width="8.9"/>
<line x1="822.74" y1="2612.8" x2="838.94" y2="2612.8" stroke="#0000ff" stroke-width="8.9"/>
<polygon points="830.84,2134.95 822.74,2148.98 838.94,2148.98" fill="#fff" stroke="#0000ff" stroke-width="2.3" stroke-linejoin="miter"/>
<polygon points="830.84,2622.15 822.74,2608.12 838.94,2608.12" fill="#fff" stroke="#0000ff" stroke-width="2.3" stroke-linejoin="miter"/>
<line x1="923.15" y1="2020.6" x2="923.15" y2="2770.4" stroke="#0000ff" stroke-width="8.9"/>
<rect transform="translate(893.8,2437.3)" width="58.7" height="285.6" fill="url(#hb)" stroke="#0000ff" stroke-width="8.9" stroke-linejoin="round"/>
<polygon points="923.15,2547.95 915.05,2561.98 931.25,2561.98" fill="none" stroke="#0000ff" stroke-width="2.3" stroke-linejoin="miter"/>
<line x1="912.86" y1="2556.9" x2="933.45" y2="2556.9" stroke="#0000ff" stroke-width="2.1"/>
<circle cx="906.25" cy="2557.3" r="4.6" fill="#0000ff"/>
<circle cx="921.75" cy="2557.3" r="4.6" fill="#0000ff"/>
<circle cx="937.25" cy="2557.3" r="4.6" fill="#0000ff"/>
<circle cx="952.75" cy="2557.3" r="4.6" fill="#0000ff"/>
<line x1="915.05" y1="2020.6" x2="931.25" y2="2020.6" stroke="#0000ff" stroke-width="8.9"/>
<line x1="915.05" y1="2770.4" x2="931.25" y2="2770.4" stroke="#0000ff" stroke-width="8.9"/>
<polygon points="923.15,2011.25 915.05,2025.28 931.25,2025.28" fill="#fff" stroke="#0000ff" stroke-width="2.3" stroke-linejoin="miter"/>
<polygon points="923.15,2779.75 915.05,2765.72 931.25,2765.72" fill="#fff" stroke="#0000ff" stroke-width="2.3" stroke-linejoin="miter"/>
<line x1="1015.47" y1="2137.2" x2="1015.47" y2="2615.9" stroke="#00ffff" stroke-width="8.9"/>
<rect transform="translate(986.12,2435.5)" width="58.7" height="156.5" fill="#fff" stroke="#00ffff" stroke-width="8.9" stroke-linejoin="round"/>
<polygon points="1015.47,2487.55 1007.37,2501.58 1023.57,2501.58" fill="none" stroke="#00ffff" stroke-width="2.3" stroke-linejoin="miter"/>
<line x1="1005.17" y1="2496.5" x2="1025.77" y2="2496.5" stroke="#00ffff" stroke-width="2.1"/>
<circle cx="998.57" cy="2496.9" r="4.6" fill="#00ffff"/>
<circle cx="1014.07" cy="2496.9" r="4.6" fill="#00ffff"/>
<circle cx="1029.57" cy="2496.9" r="4.6" fill="#00ffff"/>
<circle cx="1045.07" cy="2496.9" r="4.6" fill="#00ffff"/>
<line x1="1007.37" y1="2137.2" x2="1023.57" y2="2137.2" stroke="#00ffff" stroke-width="8.9"/>
<line x1="1007.37" y1="2615.9" x2="1023.57" y2="2615.9" stroke="#00ffff" stroke-width="8.9"/>
<polygon points="1015.47,2127.85 1007.37,2141.88 1023.57,2141.88" fill="#fff" stroke="#00ffff" stroke-width="2.3" stroke-linejoin="miter"/>
<polygon points="1015.47,2625.25 1007.37,2611.22 1023.57,2611.22" fill="#fff" stroke="#00ffff" stroke-width="2.3" stroke-linejoin="miter"/>
<line x1="1107.79" y1="2011.8" x2="1107.79" y2="2777" stroke="#00ffff" stroke-width="8.9"/>
<rect transform="translate(1078.44,2437.3)" width="58.7" height="290.1" fill="url(#hc)" stroke="#00ffff" stroke-width="8.9" stroke-linejoin="round"/>
<polygon points="1107.79,2550.45 1099.69,2564.48 1115.88,2564.48" fill="none" stroke="#00ffff" stroke-width="2.3" stroke-linejoin="miter"/>
<line x1="1097.49" y1="2559.4" x2="1118.09" y2="2559.4" stroke="#00ffff" stroke-width="2.1"/>
<circle cx="1090.88" cy="2559.8" r="4.6" fill="#00ffff"/>
<circle cx="1106.38" cy="2559.8" r="4.6" fill="#00ffff"/>
<circle cx="1121.88" cy="2559.8" r="4.6" fill="#00ffff"/>
<circle cx="1137.38" cy="2559.8" r="4.6" fill="#00ffff"/>
<line x1="1099.69" y1="2011.8" x2="1115.88" y2="2011.8" stroke="#00ffff" stroke-width="8.9"/>
<line x1="1099.69" y1="2777" x2="1115.88" y2="2777" stroke="#00ffff" stroke-width="8.9"/>
<polygon points="1107.79,2002.45 1099.69,2016.48 1115.88,2016.48" fill="#fff" stroke="#00ffff" stroke-width="2.3" stroke-linejoin="miter"/>
<polygon points="1107.79,2786.35 1099.69,2772.32 1115.88,2772.32" fill="#fff" stroke="#00ffff" stroke-width="2.3" stroke-linejoin="miter"/>
<line x1="1200.1" y1="2135.4" x2="1200.1" y2="2618.2" stroke="#ff00ff" stroke-width="8.9"/>
<rect transform="translate(1170.75,2435.5)" width="58.7" height="157.8" fill="#fff" stroke="#ff00ff" stroke-width="8.9" stroke-linejoin="round"/>
<polygon points="1200.1,2488.25 1192,2502.28 1208.2,2502.28" fill="none" stroke="#ff00ff" stroke-width="2.3" stroke-linejoin="miter"/>
<line x1="1189.8" y1="2497.2" x2="1210.4" y2="2497.2" stroke="#ff00ff" stroke-width="2.1"/>
<circle cx="1183.2" cy="2497.6" r="4.6" fill="#ff00ff"/>
<circle cx="1198.7" cy="2497.6" r="4.6" fill="#ff00ff"/>
<circle cx="1214.2" cy="2497.6" r="4.6" fill="#ff00ff"/>
<circle cx="1229.7" cy="2497.6" r="4.6" fill="#ff00ff"/>
<line x1="1192" y1="2135.4" x2="1208.2" y2="2135.4" stroke="#ff00ff" stroke-width="8.9"/>
<line x1="1192" y1="2618.2" x2="1208.2" y2="2618.2" stroke="#ff00ff" stroke-width="8.9"/>
<polygon points="1200.1,2126.05 1192,2140.08 1208.2,2140.08" fill="#fff" stroke="#ff00ff" stroke-width="2.3" stroke-linejoin="miter"/>
<polygon points="1200.1,2627.55 1192,2613.52 1208.2,2613.52" fill="#fff" stroke="#ff00ff" stroke-width="2.3" stroke-linejoin="miter"/>
<line x1="1292.41" y1="2007" x2="1292.41" y2="2780.6" stroke="#ff00ff" stroke-width="8.9"/>
<rect transform="translate(1263.07,2437.3)" width="58.7" height="293.6" fill="url(#hm)" stroke="#ff00ff" stroke-width="8.9" stroke-linejoin="round"/>
<polygon points="1292.41,2551.85 1284.32,2565.88 1300.51,2565.88" fill="none" stroke="#ff00ff" stroke-width="2.3" stroke-linejoin="miter"/>
<line x1="1282.12" y1="2560.8" x2="1302.71" y2="2560.8" stroke="#ff00ff" stroke-width="2.1"/>
<circle cx="1275.51" cy="2561.2" r="4.6" fill="#ff00ff"/>
<circle cx="1291.01" cy="2561.2" r="4.6" fill="#ff00ff"/>
<circle cx="1306.51" cy="2561.2" r="4.6" fill="#ff00ff"/>
<circle cx="1322.01" cy="2561.2" r="4.6" fill="#ff00ff"/>
<line x1="1284.32" y1="2007" x2="1300.51" y2="2007" stroke="#ff00ff" stroke-width="8.9"/>
<line x1="1284.32" y1="2780.6" x2="1300.51" y2="2780.6" stroke="#ff00ff" stroke-width="8.9"/>
<polygon points="1292.41,1997.65 1284.32,2011.68 1300.51,2011.68" fill="#fff" stroke="#ff00ff" stroke-width="2.3" stroke-linejoin="miter"/>
<polygon points="1292.41,2789.95 1284.32,2775.92 1300.51,2775.92" fill="#fff" stroke="#ff00ff" stroke-width="2.3" stroke-linejoin="miter"/>
<line x1="1384.73" y1="2133.1" x2="1384.73" y2="2619.5" stroke="#808000" stroke-width="8.9"/>
<rect transform="translate(1355.38,2435.5)" width="58.7" height="159.6" fill="#fff" stroke="#808000" stroke-width="8.9" stroke-linejoin="round"/>
<polygon points="1384.73,2488.65 1376.63,2502.68 1392.83,2502.68" fill="none" stroke="#808000" stroke-width="2.3" stroke-linejoin="miter"/>
<line x1="1374.43" y1="2497.6" x2="1395.03" y2="2497.6" stroke="#808000" stroke-width="2.1"/>
<circle cx="1367.83" cy="2498" r="4.6" fill="#808000"/>
<circle cx="1383.33" cy="2498" r="4.6" fill="#808000"/>
<circle cx="1398.83" cy="2498" r="4.6" fill="#808000"/>
<circle cx="1414.33" cy="2498" r="4.6" fill="#808000"/>
<line x1="1376.63" y1="2133.1" x2="1392.83" y2="2133.1" stroke="#808000" stroke-width="8.9"/>
<line x1="1376.63" y1="2619.5" x2="1392.83" y2="2619.5" stroke="#808000" stroke-width="8.9"/>
<polygon points="1384.73,2123.75 1376.63,2137.78 1392.83,2137.78" fill="#fff" stroke="#808000" stroke-width="2.3" stroke-linejoin="miter"/>
<polygon points="1384.73,2628.85 1376.63,2614.82 1392.83,2614.82" fill="#fff" stroke="#808000" stroke-width="2.3" stroke-linejoin="miter"/>
<line x1="1477.05" y1="2004.1" x2="1477.05" y2="2784.6" stroke="#808000" stroke-width="8.9"/>
<rect transform="translate(1447.7,2437.3)" width="58.7" height="295.8" fill="url(#ho)" stroke="#808000" stroke-width="8.9" stroke-linejoin="round"/>
<polygon points="1477.05,2552.85 1468.95,2566.88 1485.14,2566.88" fill="none" stroke="#808000" stroke-width="2.3" stroke-linejoin="miter"/>
<line x1="1466.75" y1="2561.8" x2="1487.35" y2="2561.8" stroke="#808000" stroke-width="2.1"/>
<circle cx="1460.14" cy="2562.2" r="4.6" fill="#808000"/>
<circle cx="1475.64" cy="2562.2" r="4.6" fill="#808000"/>
<circle cx="1491.14" cy="2562.2" r="4.6" fill="#808000"/>
<circle cx="1506.64" cy="2562.2" r="4.6" fill="#808000"/>
<line x1="1468.95" y1="2004.1" x2="1485.14" y2="2004.1" stroke="#808000" stroke-width="8.9"/>
<line x1="1468.95" y1="2784.6" x2="1485.14" y2="2784.6" stroke="#808000" stroke-width="8.9"/>
<polygon points="1477.05,1994.75 1468.95,2008.78 1485.14,2008.78" fill="#fff" stroke="#808000" stroke-width="2.3" stroke-linejoin="miter"/>
<polygon points="1477.05,2793.95 1468.95,2779.92 1485.14,2779.92" fill="#fff" stroke="#808000" stroke-width="2.3" stroke-linejoin="miter"/>
<rect x="231.5" y="2706.25" width="25.7" height="8.9" rx="2.6" fill="#000"/>
<rect x="231.5" y="2430.75" width="25.7" height="8.9" rx="2.6" fill="#000"/>
<rect x="231.5" y="2155.25" width="25.7" height="8.9" rx="2.6" fill="#000"/>
<rect x="231.5" y="1879.75" width="25.7" height="8.9" rx="2.6" fill="#000"/>
<rect x="231.5" y="2568.5" width="14.6" height="8.9" rx="2.6" fill="#000"/>
<rect x="231.5" y="2293" width="14.6" height="8.9" rx="2.6" fill="#000"/>
<rect x="231.5" y="2017.5" width="14.6" height="8.9" rx="2.6" fill="#000"/>
<rect x="273.05" y="2822.75" width="8.9" height="25.7" rx="2.6" fill="#000"/>
<rect x="365.28" y="2822.75" width="8.9" height="25.7" rx="2.6" fill="#000"/>
<rect x="457.51" y="2822.75" width="8.9" height="25.7" rx="2.6" fill="#000"/>
<rect x="549.74" y="2822.75" width="8.9" height="25.7" rx="2.6" fill="#000"/>
<rect x="641.97" y="2822.75" width="8.9" height="25.7" rx="2.6" fill="#000"/>
<rect x="734.2" y="2822.75" width="8.9" height="25.7" rx="2.6" fill="#000"/>
<rect x="826.43" y="2822.75" width="8.9" height="25.7" rx="2.6" fill="#000"/>
<rect x="918.66" y="2822.75" width="8.9" height="25.7" rx="2.6" fill="#000"/>
<rect x="1010.89" y="2822.75" width="8.9" height="25.7" rx="2.6" fill="#000"/>
<rect x="1103.12" y="2822.75" width="8.9" height="25.7" rx="2.6" fill="#000"/>
<rect x="1195.35" y="2822.75" width="8.9" height="25.7" rx="2.6" fill="#000"/>
<rect x="1287.58" y="2822.75" width="8.9" height="25.7" rx="2.6" fill="#000"/>
<rect x="1379.81" y="2822.75" width="8.9" height="25.7" rx="2.6" fill="#000"/>
<rect x="1472.04" y="2822.75" width="8.9" height="25.7" rx="2.6" fill="#000"/>
<rect x="231.5" y="1746.45" width="1291" height="1102" fill="none" stroke="#000" stroke-width="8.9"/>
<text x="248.3" y="2209.5" fill="#ff8000" font-family='"Liberation Serif", serif' font-weight="bold" font-size="31">0.48448</text>
<text x="326" y="2719.5" fill="#ff8000" font-family='"Liberation Serif", serif' font-weight="bold" font-size="31">0.46907</text>
<text x="417.8" y="2157.6" fill="#ff8000" font-family='"Liberation Serif", serif' font-weight="bold" font-size="31">0.48038</text>
<text x="509.3" y="2789.7" fill="#ff8000" font-family='"Liberation Serif", serif' font-weight="bold" font-size="31">0.46058</text>
<text x="602.5" y="2131.8" fill="#ff8000" font-family='"Liberation Serif", serif' font-weight="bold" font-size="31">0.4788</text>
<text x="694.3" y="2814.1" fill="#ff8000" font-family='"Liberation Serif", serif' font-weight="bold" font-size="31">0.45726</text>
<text x="786.1" y="2117.7" fill="#ff8000" font-family='"Liberation Serif", serif' font-weight="bold" font-size="31">0.47804</text>
<text x="879.1" y="2818.1" fill="#ff8000" font-family='"Liberation Serif", serif' font-weight="bold" font-size="31">0.45566</text>
<text x="971.9" y="2117.7" fill="#ff8000" font-family='"Liberation Serif", serif' font-weight="bold" font-size="31">0.47763</text>
<text x="1063.7" y="2820.7" fill="#ff8000" font-family='"Liberation Serif", serif' font-weight="bold" font-size="31">0.45477</text>
<text x="1155.3" y="2117.7" fill="#ff8000" font-family='"Liberation Serif", serif' font-weight="bold" font-size="31">0.47737</text>
<text x="1247.4" y="2821.6" fill="#ff8000" font-family='"Liberation Serif", serif' font-weight="bold" font-size="31">0.45423</text>
<text x="1339.9" y="2117.7" fill="#ff8000" font-family='"Liberation Serif", serif' font-weight="bold" font-size="31">0.4772</text>
<text x="1401.7" y="2822.5" fill="#ff8000" font-family='"Liberation Serif", serif' font-weight="bold" font-size="31">0.45387</text>
<text x="1889.4" y="1965.6" font-family='"Liberation Serif", serif' font-size="61.3" font-weight="normal" font-style="normal" text-anchor="start">Uplink</text>
<text x="2123.8" y="1965.6" font-family='"Liberation Serif", serif' font-size="61.7" font-weight="normal" font-style="normal" text-anchor="start">Downlink</text>
<text transform="translate(1549.8,2047.9) scale(1.22,1.0)" font-family='"Liberation Serif", serif' font-size="62" font-weight="normal">δ</text>
<text x="1580.3" y="2067.9" font-family='"Liberation Serif", serif' font-size="63" font-weight="normal" font-style="italic" text-anchor="start">sxx</text>
<text transform="translate(1658.8,2047.9) scale(1.2,1.0)" font-family='"Liberation Serif", serif' font-size="62" font-weight="normal">=</text>
<text x="1695.6" y="2047.9" font-family='"Liberation Serif", serif' font-size="63" font-weight="normal" font-style="normal" text-anchor="start">0.02m</text>
<rect x="1926.45" y="2000.05" width="125.7" height="62.1" fill="#fff" stroke="#000000" stroke-width="8.9" stroke-linejoin="round"/>
<rect transform="translate(2182.45,2000.05)" width="125.7" height="62.1" fill="url(#hk)" stroke="#000000" stroke-width="8.9" stroke-linejoin="round"/>
<text transform="translate(1549.8,2154.2) scale(1.22,1.0)" font-family='"Liberation Serif", serif' font-size="62" font-weight="normal">δ</text>
<text x="1580.3" y="2174.2" font-family='"Liberation Serif", serif' font-size="63" font-weight="normal" font-style="italic" text-anchor="start">sxx</text>
<text transform="translate(1658.8,2154.2) scale(1.2,1.0)" font-family='"Liberation Serif", serif' font-size="62" font-weight="normal">=</text>
<text x="1695.6" y="2154.2" font-family='"Liberation Serif", serif' font-size="63" font-weight="normal" font-style="normal" text-anchor="start">0.03m</text>
<rect x="1934.45" y="2106.35" width="125.7" height="62.1" fill="#fff" stroke="#ff0000" stroke-width="8.9" stroke-linejoin="round"/>
<rect transform="translate(2190.45,2106.35)" width="125.7" height="62.1" fill="url(#hr)" stroke="#ff0000" stroke-width="8.9" stroke-linejoin="round"/>
<text transform="translate(1549.8,2260.5) scale(1.22,1.0)" font-family='"Liberation Serif", serif' font-size="62" font-weight="normal">δ</text>
<text x="1580.3" y="2280.5" font-family='"Liberation Serif", serif' font-size="63" font-weight="normal" font-style="italic" text-anchor="start">sxx</text>
<text transform="translate(1658.8,2260.5) scale(1.2,1.0)" font-family='"Liberation Serif", serif' font-size="62" font-weight="normal">=</text>
<text x="1695.6" y="2260.5" font-family='"Liberation Serif", serif' font-size="63" font-weight="normal" font-style="normal" text-anchor="start">0.04m</text>
<rect x="1934.45" y="2212.65" width="125.7" height="62.1" fill="#fff" stroke="#00ff00" stroke-width="8.9" stroke-linejoin="round"/>
<rect transform="translate(2190.45,2212.65)" width="125.7" height="62.1" fill="url(#hg)" stroke="#00ff00" stroke-width="8.9" stroke-linejoin="round"/>
<text transform="translate(1549.8,2366.8) scale(1.22,1.0)" font-family='"Liberation Serif", serif' font-size="62" font-weight="normal">δ</text>
<text x="1580.3" y="2386.8" font-family='"Liberation Serif", serif' font-size="63" font-weight="normal" font-style="italic" text-anchor="start">sxx</text>
<text transform="translate(1658.8,2366.8) scale(1.2,1.0)" font-family='"Liberation Serif", serif' font-size="62" font-weight="normal">=</text>
<text x="1695.6" y="2366.8" font-family='"Liberation Serif", serif' font-size="63" font-weight="normal" font-style="normal" text-anchor="start">0.05m</text>
<rect x="1934.45" y="2318.95" width="125.7" height="62.1" fill="#fff" stroke="#0000ff" stroke-width="8.9" stroke-linejoin="round"/>
<rect transform="translate(2190.45,2318.95)" width="125.7" height="62.1" fill="url(#hb)" stroke="#0000ff" stroke-width="8.9" stroke-linejoin="round"/>
<text transform="translate(1549.8,2473.1) scale(1.22,1.0)" font-family='"Liberation Serif", serif' font-size="62" font-weight="normal">δ</text>
<text x="1580.3" y="2493.1" font-family='"Liberation Serif", serif' font-size="63" font-weight="normal" font-style="italic" text-anchor="start">sxx</text>
<text transform="translate(1658.8,2473.1) scale(1.2,1.0)" font-family='"Liberation Serif", serif' font-size="62" font-weight="normal">=</text>
<text x="1695.6" y="2473.1" font-family='"Liberation Serif", serif' font-size="63" font-weight="normal" font-style="normal" text-anchor="start">0.06m</text>
<rect x="1934.45" y="2425.25" width="125.7" height="62.1" fill="#fff" stroke="#00ffff" stroke-width="8.9" stroke-linejoin="round"/>
<rect transform="translate(2190.45,2425.25)" width="125.7" height="62.1" fill="url(#hc)" stroke="#00ffff" stroke-width="8.9" stroke-linejoin="round"/>
<text transform="translate(1549.8,2579.4) scale(1.22,1.0)" font-family='"Liberation Serif", serif' font-size="62" font-weight="normal">δ</text>
<text x="1580.3" y="2599.4" font-family='"Liberation Serif", serif' font-size="63" font-weight="normal" font-style="italic" text-anchor="start">sxx</text>
<text transform="translate(1658.8,2579.4) scale(1.2,1.0)" font-family='"Liberation Serif", serif' font-size="62" font-weight="normal">=</text>
<text x="1695.6" y="2579.4" font-family='"Liberation Serif", serif' font-size="63" font-weight="normal" font-style="normal" text-anchor="start">0.07m</text>
<rect x="1934.45" y="2531.55" width="125.7" height="62.1" fill="#fff" stroke="#ff00ff" stroke-width="8.9" stroke-linejoin="round"/>
<rect transform="translate(2190.45,2531.55)" width="125.7" height="62.1" fill="url(#hm)" stroke="#ff00ff" stroke-width="8.9" stroke-linejoin="round"/>
<text transform="translate(1549.8,2685.7) scale(1.22,1.0)" font-family='"Liberation Serif", serif' font-size="62" font-weight="normal">δ</text>
<text x="1580.3" y="2705.7" font-family='"Liberation Serif", serif' font-size="63" font-weight="normal" font-style="italic" text-anchor="start">sxx</text>
<text transform="translate(1658.8,2685.7) scale(1.2,1.0)" font-family='"Liberation Serif", serif' font-size="62" font-weight="normal">=</text>
<text x="1695.6" y="2685.7" font-family='"Liberation Serif", serif' font-size="63" font-weight="normal" font-style="normal" text-anchor="start">0.08m</text>
<rect x="1934.45" y="2637.85" width="125.7" height="62.1" fill="#fff" stroke="#808000" stroke-width="8.9" stroke-linejoin="round"/>
<rect transform="translate(2190.45,2637.85)" width="125.7" height="62.1" fill="url(#ho)" stroke="#808000" stroke-width="8.9" stroke-linejoin="round"/>
<text x="101" y="3245.8" font-family='"Liberation Serif", serif' font-size="57" font-weight="normal" font-style="normal" text-anchor="start">(d)</text>
<text x="205" y="4457.95" font-family='"Liberation Sans", sans-serif' font-size="62" font-weight="normal" font-style="normal" text-anchor="end">0.40</text>
<text x="205" y="4237.14" font-family='"Liberation Sans", sans-serif' font-size="62" font-weight="normal" font-style="normal" text-anchor="end">0.45</text>
<text x="205" y="4016.33" font-family='"Liberation Sans", sans-serif' font-size="62" font-weight="normal" font-style="normal" text-anchor="end">0.50</text>
<text x="205" y="3795.52" font-family='"Liberation Sans", sans-serif' font-size="62" font-weight="normal" font-style="normal" text-anchor="end">0.55</text>
<text x="205" y="3574.71" font-family='"Liberation Sans", sans-serif' font-size="62" font-weight="normal" font-style="normal" text-anchor="end">0.60</text>
<text x="205" y="3353.9" font-family='"Liberation Sans", sans-serif' font-size="62" font-weight="normal" font-style="normal" text-anchor="end">0.65</text>
<text transform="translate(57.4,4202.5) rotate(-90)" font-family='"Liberation Serif", serif' font-size="62" font-weight="bold" xml:space="preserve">Heterodyne efficiency<tspan x="610.5" font-size="70" font-style="italic">η</tspan></text>
<text transform="translate(754.8,4533.9) scale(1.07,1.13)" font-family='"Liberation Serif", serif' font-size="62" font-weight="bold">δ</text>
<text x="785.3" y="4554.2" font-family='"Liberation Serif", serif' font-size="38" font-weight="bold" font-style="italic" text-anchor="start">Lyy</text>
<text x="873.3" y="4533.9" font-family='"Liberation Serif", serif' font-size="63" font-weight="bold" font-style="normal" text-anchor="start">(m)</text>
<line x1="282.4" y1="3669.7" x2="282.4" y2="4197.7" stroke="#000000" stroke-width="8.9"/>
<rect transform="translate(248,3997.8)" width="68.8" height="172.8" fill="#fff" stroke="#000000" stroke-width="8.9" stroke-linejoin="round"/>
<polygon points="282.4,4056.05 274.3,4070.08 290.5,4070.08" fill="none" stroke="#000000" stroke-width="2.3" stroke-linejoin="miter"/>
<line x1="272.1" y1="4065" x2="292.7" y2="4065" stroke="#000000" stroke-width="2.1"/>
<circle cx="255.3" cy="4065.4" r="4.6" fill="#000000"/>
<circle cx="270.6" cy="4065.4" r="4.6" fill="#000000"/>
<circle cx="285.9" cy="4065.4" r="4.6" fill="#000000"/>
<circle cx="301.2" cy="4065.4" r="4.6" fill="#000000"/>
<circle cx="316.5" cy="4065.4" r="4.6" fill="#000000"/>
<line x1="273.5" y1="3669.7" x2="291.3" y2="3669.7" stroke="#000000" stroke-width="8.9"/>
<line x1="273.5" y1="4197.7" x2="291.3" y2="4197.7" stroke="#000000" stroke-width="8.9"/>
<polygon points="282.4,3660.35 274.3,3674.38 290.5,3674.38" fill="#fff" stroke="#000000" stroke-width="2.3" stroke-linejoin="miter"/>
<polygon points="282.4,4207.05 274.3,4193.02 290.5,4193.02" fill="#fff" stroke="#000000" stroke-width="2.3" stroke-linejoin="miter"/>
<line x1="390.35" y1="3541" x2="390.35" y2="4369.5" stroke="#000000" stroke-width="8.9"/>
<rect transform="translate(355.95,4001.3)" width="68.8" height="313.4" fill="url(#hk)" stroke="#000000" stroke-width="8.9" stroke-linejoin="round"/>
<polygon points="390.35,4124.05 382.25,4138.08 398.45,4138.08" fill="none" stroke="#000000" stroke-width="2.3" stroke-linejoin="miter"/>
<line x1="380.05" y1="4133" x2="400.65" y2="4133" stroke="#000000" stroke-width="2.1"/>
<circle cx="363.25" cy="4133.4" r="4.6" fill="#000000"/>
<circle cx="378.55" cy="4133.4" r="4.6" fill="#000000"/>
<circle cx="393.85" cy="4133.4" r="4.6" fill="#000000"/>
<circle cx="409.15" cy="4133.4" r="4.6" fill="#000000"/>
<circle cx="424.45" cy="4133.4" r="4.6" fill="#000000"/>
<line x1="381.45" y1="3541" x2="399.25" y2="3541" stroke="#000000" stroke-width="8.9"/>
<line x1="381.45" y1="4369.5" x2="399.25" y2="4369.5" stroke="#000000" stroke-width="8.9"/>
<polygon points="390.35,3531.65 382.25,3545.68 398.45,3545.68" fill="#fff" stroke="#000000" stroke-width="2.3" stroke-linejoin="miter"/>
<polygon points="390.35,4378.85 382.25,4364.82 398.45,4364.82" fill="#fff" stroke="#000000" stroke-width="2.3" stroke-linejoin="miter"/>
<line x1="498.3" y1="3934.6" x2="498.3" y2="4103.2" stroke="#ff0000" stroke-width="8.9"/>
<rect transform="translate(463.9,3942.8)" width="68.8" height="55.7" fill="#fff" stroke="#ff0000" stroke-width="8.9" stroke-linejoin="round"/>
<polygon points="498.3,3966.95 490.2,3980.98 506.4,3980.98" fill="none" stroke="#ff0000" stroke-width="2.3" stroke-linejoin="miter"/>
<line x1="488" y1="3975.9" x2="508.6" y2="3975.9" stroke="#ff0000" stroke-width="2.1"/>
<circle cx="471.2" cy="3976.3" r="4.6" fill="#ff0000"/>
<circle cx="486.5" cy="3976.3" r="4.6" fill="#ff0000"/>
<circle cx="501.8" cy="3976.3" r="4.6" fill="#ff0000"/>
<circle cx="517.1" cy="3976.3" r="4.6" fill="#ff0000"/>
<circle cx="532.4" cy="3976.3" r="4.6" fill="#ff0000"/>
<line x1="489.4" y1="3934.6" x2="507.2" y2="3934.6" stroke="#ff0000" stroke-width="8.9"/>
<line x1="489.4" y1="4103.2" x2="507.2" y2="4103.2" stroke="#ff0000" stroke-width="8.9"/>
<polygon points="498.3,3925.25 490.2,3939.28 506.4,3939.28" fill="#fff" stroke="#ff0000" stroke-width="2.3" stroke-linejoin="miter"/>
<polygon points="498.3,4112.55 490.2,4098.52 506.4,4098.52" fill="#fff" stroke="#ff0000" stroke-width="2.3" stroke-linejoin="miter"/>
<line x1="606.25" y1="3868.5" x2="606.25" y2="4169.1" stroke="#ff0000" stroke-width="8.9"/>
<rect transform="translate(571.85,3887.3)" width="68.8" height="113.9" fill="url(#hr)" stroke="#ff0000" stroke-width="8.9" stroke-linejoin="round"/>
<polygon points="606.25,3943.85 598.15,3957.88 614.35,3957.88" fill="none" stroke="#ff0000" stroke-width="2.3" stroke-linejoin="miter"/>
<line x1="595.95" y1="3952.8" x2="616.55" y2="3952.8" stroke="#ff0000" stroke-width="2.1"/>
<circle cx="579.15" cy="3953.2" r="4.6" fill="#ff0000"/>
<circle cx="594.45" cy="3953.2" r="4.6" fill="#ff0000"/>
<circle cx="609.75" cy="3953.2" r="4.6" fill="#ff0000"/>
<circle cx="625.05" cy="3953.2" r="4.6" fill="#ff0000"/>
<circle cx="640.35" cy="3953.2" r="4.6" fill="#ff0000"/>
<line x1="597.35" y1="3868.5" x2="615.15" y2="3868.5" stroke="#ff0000" stroke-width="8.9"/>
<line x1="597.35" y1="4169.1" x2="615.15" y2="4169.1" stroke="#ff0000" stroke-width="8.9"/>
<polygon points="606.25,3859.15 598.15,3873.18 614.35,3873.18" fill="#fff" stroke="#ff0000" stroke-width="2.3" stroke-linejoin="miter"/>
<polygon points="606.25,4178.45 598.15,4164.42 614.35,4164.42" fill="#fff" stroke="#ff0000" stroke-width="2.3" stroke-linejoin="miter"/>
<line x1="714.2" y1="3896.9" x2="714.2" y2="4166.4" stroke="#00ff00" stroke-width="8.9"/>
<rect transform="translate(679.8,3909.5)" width="68.8" height="89" fill="#fff" stroke="#00ff00" stroke-width="8.9" stroke-linejoin="round"/>
<polygon points="714.2,3953.85 706.1,3967.88 722.3,3967.88" fill="none" stroke="#00ff00" stroke-width="2.3" stroke-linejoin="miter"/>
<line x1="703.9" y1="3962.8" x2="724.5" y2="3962.8" stroke="#00ff00" stroke-width="2.1"/>
<circle cx="687.1" cy="3963.2" r="4.6" fill="#00ff00"/>
<circle cx="702.4" cy="3963.2" r="4.6" fill="#00ff00"/>
<circle cx="717.7" cy="3963.2" r="4.6" fill="#00ff00"/>
<circle cx="733" cy="3963.2" r="4.6" fill="#00ff00"/>
<circle cx="748.3" cy="3963.2" r="4.6" fill="#00ff00"/>
<line x1="705.3" y1="3896.9" x2="723.1" y2="3896.9" stroke="#00ff00" stroke-width="8.9"/>
<line x1="705.3" y1="4166.4" x2="723.1" y2="4166.4" stroke="#00ff00" stroke-width="8.9"/>
<polygon points="714.2,3887.55 706.1,3901.58 722.3,3901.58" fill="#fff" stroke="#00ff00" stroke-width="2.3" stroke-linejoin="miter"/>
<polygon points="714.2,4175.75 706.1,4161.72 722.3,4161.72" fill="#fff" stroke="#00ff00" stroke-width="2.3" stroke-linejoin="miter"/>
<line x1="822.15" y1="3783.9" x2="822.15" y2="4275.6" stroke="#00ff00" stroke-width="8.9"/>
<rect transform="translate(787.75,3815)" width="68.8" height="186.4" fill="url(#hg)" stroke="#00ff00" stroke-width="8.9" stroke-linejoin="round"/>
<polygon points="822.15,3913.25 814.05,3927.28 830.25,3927.28" fill="none" stroke="#00ff00" stroke-width="2.3" stroke-linejoin="miter"/>
<line x1="811.85" y1="3922.2" x2="832.45" y2="3922.2" stroke="#00ff00" stroke-width="2.1"/>
<circle cx="795.05" cy="3922.6" r="4.6" fill="#00ff00"/>
<circle cx="810.35" cy="3922.6" r="4.6" fill="#00ff00"/>
<circle cx="825.65" cy="3922.6" r="4.6" fill="#00ff00"/>
<circle cx="840.95" cy="3922.6" r="4.6" fill="#00ff00"/>
<circle cx="856.25" cy="3922.6" r="4.6" fill="#00ff00"/>
<line x1="813.25" y1="3783.9" x2="831.05" y2="3783.9" stroke="#00ff00" stroke-width="8.9"/>
<line x1="813.25" y1="4275.6" x2="831.05" y2="4275.6" stroke="#00ff00" stroke-width="8.9"/>
<polygon points="822.15,3774.55 814.05,3788.58 830.25,3788.58" fill="#fff" stroke="#00ff00" stroke-width="2.3" stroke-linejoin="miter"/>
<polygon points="822.15,4284.95 814.05,4270.92 830.25,4270.92" fill="#fff" stroke="#00ff00" stroke-width="2.3" stroke-linejoin="miter"/>
<line x1="930.1" y1="3885.6" x2="930.1" y2="4185.2" stroke="#0000ff" stroke-width="8.9"/>
<rect transform="translate(895.7,3899.6)" width="68.8" height="98.2" fill="#fff" stroke="#0000ff" stroke-width="8.9" stroke-linejoin="round"/>
<polygon points="930.1,3950.05 922,3964.08 938.2,3964.08" fill="none" stroke="#0000ff" stroke-width="2.3" stroke-linejoin="miter"/>
<line x1="919.8" y1="3959" x2="940.4" y2="3959" stroke="#0000ff" stroke-width="2.1"/>
<circle cx="903" cy="3959.4" r="4.6" fill="#0000ff"/>
<circle cx="918.3" cy="3959.4" r="4.6" fill="#0000ff"/>
<circle cx="933.6" cy="3959.4" r="4.6" fill="#0000ff"/>
<circle cx="948.9" cy="3959.4" r="4.6" fill="#0000ff"/>
<circle cx="964.2" cy="3959.4" r="4.6" fill="#0000ff"/>
<line x1="921.2" y1="3885.6" x2="939" y2="3885.6" stroke="#0000ff" stroke-width="8.9"/>
<line x1="921.2" y1="4185.2" x2="939" y2="4185.2" stroke="#0000ff" stroke-width="8.9"/>
<polygon points="930.1,3876.25 922,3890.28 938.2,3890.28" fill="#fff" stroke="#0000ff" stroke-width="2.3" stroke-linejoin="miter"/>
<polygon points="930.1,4194.55 922,4180.52 938.2,4180.52" fill="#fff" stroke="#0000ff" stroke-width="2.3" stroke-linejoin="miter"/>
<line x1="1038.05" y1="3757.2" x2="1038.05" y2="4308.2" stroke="#0000ff" stroke-width="8.9"/>
<rect transform="translate(1003.65,3791.9)" width="68.8" height="209.5" fill="url(#hb)" stroke="#0000ff" stroke-width="8.9" stroke-linejoin="round"/>
<polygon points="1038.05,3903.95 1029.95,3917.98 1046.15,3917.98" fill="none" stroke="#0000ff" stroke-width="2.3" stroke-linejoin="miter"/>
<line x1="1027.75" y1="3912.9" x2="1048.35" y2="3912.9" stroke="#0000ff" stroke-width="2.1"/>
<circle cx="1010.95" cy="3913.3" r="4.6" fill="#0000ff"/>
<circle cx="1026.25" cy="3913.3" r="4.6" fill="#0000ff"/>
<circle cx="1041.55" cy="3913.3" r="4.6" fill="#0000ff"/>
<circle cx="1056.85" cy="3913.3" r="4.6" fill="#0000ff"/>
<circle cx="1072.15" cy="3913.3" r="4.6" fill="#0000ff"/>
<line x1="1029.15" y1="3757.2" x2="1046.95" y2="3757.2" stroke="#0000ff" stroke-width="8.9"/>
<line x1="1029.15" y1="4308.2" x2="1046.95" y2="4308.2" stroke="#0000ff" stroke-width="8.9"/>
<polygon points="1038.05,3747.85 1029.95,3761.88 1046.15,3761.88" fill="#fff" stroke="#0000ff" stroke-width="2.3" stroke-linejoin="miter"/>
<polygon points="1038.05,4317.55 1029.95,4303.52 1046.15,4303.52" fill="#fff" stroke="#0000ff" stroke-width="2.3" stroke-linejoin="miter"/>
<line x1="1146" y1="3880.3" x2="1146" y2="4192.9" stroke="#00ffff" stroke-width="8.9"/>
<rect transform="translate(1111.6,3894.8)" width="68.8" height="103" fill="#fff" stroke="#00ffff" stroke-width="8.9" stroke-linejoin="round"/>
<polygon points="1146,3948.35 1137.9,3962.38 1154.1,3962.38" fill="none" stroke="#00ffff" stroke-width="2.3" stroke-linejoin="miter"/>
<line x1="1135.7" y1="3957.3" x2="1156.3" y2="3957.3" stroke="#00ffff" stroke-width="2.1"/>
<circle cx="1118.9" cy="3957.7" r="4.6" fill="#00ffff"/>
<circle cx="1134.2" cy="3957.7" r="4.6" fill="#00ffff"/>
<circle cx="1149.5" cy="3957.7" r="4.6" fill="#00ffff"/>
<circle cx="1164.8" cy="3957.7" r="4.6" fill="#00ffff"/>
<circle cx="1180.1" cy="3957.7" r="4.6" fill="#00ffff"/>
<line x1="1137.1" y1="3880.3" x2="1154.9" y2="3880.3" stroke="#00ffff" stroke-width="8.9"/>
<line x1="1137.1" y1="4192.9" x2="1154.9" y2="4192.9" stroke="#00ffff" stroke-width="8.9"/>
<polygon points="1146,3870.95 1137.9,3884.98 1154.1,3884.98" fill="#fff" stroke="#00ffff" stroke-width="2.3" stroke-linejoin="miter"/>
<polygon points="1146,4202.25 1137.9,4188.22 1154.1,4188.22" fill="#fff" stroke="#00ffff" stroke-width="2.3" stroke-linejoin="miter"/>
<line x1="1253.95" y1="3746.6" x2="1253.95" y2="4321.9" stroke="#00ffff" stroke-width="8.9"/>
<rect transform="translate(1219.55,3783)" width="68.8" height="218.4" fill="url(#hc)" stroke="#00ffff" stroke-width="8.9" stroke-linejoin="round"/>
<polygon points="1253.95,3899.95 1245.85,3913.98 1262.05,3913.98" fill="none" stroke="#00ffff" stroke-width="2.3" stroke-linejoin="miter"/>
<line x1="1243.65" y1="3908.9" x2="1264.25" y2="3908.9" stroke="#00ffff" stroke-width="2.1"/>
<circle cx="1226.85" cy="3909.3" r="4.6" fill="#00ffff"/>
<circle cx="1242.15" cy="3909.3" r="4.6" fill="#00ffff"/>
<circle cx="1257.45" cy="3909.3" r="4.6" fill="#00ffff"/>
<circle cx="1272.75" cy="3909.3" r="4.6" fill="#00ffff"/>
<circle cx="1288.05" cy="3909.3" r="4.6" fill="#00ffff"/>
<line x1="1245.05" y1="3746.6" x2="1262.85" y2="3746.6" stroke="#00ffff" stroke-width="8.9"/>
<line x1="1245.05" y1="4321.9" x2="1262.85" y2="4321.9" stroke="#00ffff" stroke-width="8.9"/>
<polygon points="1253.95,3737.25 1245.85,3751.28 1262.05,3751.28" fill="#fff" stroke="#00ffff" stroke-width="2.3" stroke-linejoin="miter"/>
<polygon points="1253.95,4331.25 1245.85,4317.22 1262.05,4317.22" fill="#fff" stroke="#00ffff" stroke-width="2.3" stroke-linejoin="miter"/>
<line x1="1361.9" y1="3878.5" x2="1361.9" y2="4197" stroke="#ff00ff" stroke-width="8.9"/>
<rect transform="translate(1327.5,3893.6)" width="68.8" height="104.2" fill="#fff" stroke="#ff00ff" stroke-width="8.9" stroke-linejoin="round"/>
<polygon points="1361.9,3947.55 1353.8,3961.58 1370,3961.58" fill="none" stroke="#ff00ff" stroke-width="2.3" stroke-linejoin="miter"/>
<line x1="1351.6" y1="3956.5" x2="1372.2" y2="3956.5" stroke="#ff00ff" stroke-width="2.1"/>
<circle cx="1334.8" cy="3956.9" r="4.6" fill="#ff00ff"/>
<circle cx="1350.1" cy="3956.9" r="4.6" fill="#ff00ff"/>
<circle cx="1365.4" cy="3956.9" r="4.6" fill="#ff00ff"/>
<circle cx="1380.7" cy="3956.9" r="4.6" fill="#ff00ff"/>
<circle cx="1396" cy="3956.9" r="4.6" fill="#ff00ff"/>
<line x1="1353" y1="3878.5" x2="1370.8" y2="3878.5" stroke="#ff00ff" stroke-width="8.9"/>
<line x1="1353" y1="4197" x2="1370.8" y2="4197" stroke="#ff00ff" stroke-width="8.9"/>
<polygon points="1361.9,3869.15 1353.8,3883.18 1370,3883.18" fill="#fff" stroke="#ff00ff" stroke-width="2.3" stroke-linejoin="miter"/>
<polygon points="1361.9,4206.35 1353.8,4192.32 1370,4192.32" fill="#fff" stroke="#ff00ff" stroke-width="2.3" stroke-linejoin="miter"/>
<line x1="1469.85" y1="3741.2" x2="1469.85" y2="4329" stroke="#ff00ff" stroke-width="8.9"/>
<rect transform="translate(1435.45,3778.3)" width="68.8" height="223.1" fill="url(#hm)" stroke="#ff00ff" stroke-width="8.9" stroke-linejoin="round"/>
<polygon points="1469.85,3897.85 1461.75,3911.88 1477.95,3911.88" fill="none" stroke="#ff00ff" stroke-width="2.3" stroke-linejoin="miter"/>
<line x1="1459.55" y1="3906.8" x2="1480.15" y2="3906.8" stroke="#ff00ff" stroke-width="2.1"/>
<circle cx="1442.75" cy="3907.2" r="4.6" fill="#ff00ff"/>
<circle cx="1458.05" cy="3907.2" r="4.6" fill="#ff00ff"/>
<circle cx="1473.35" cy="3907.2" r="4.6" fill="#ff00ff"/>
<circle cx="1488.65" cy="3907.2" r="4.6" fill="#ff00ff"/>
<circle cx="1503.95" cy="3907.2" r="4.6" fill="#ff00ff"/>
<line x1="1460.95" y1="3741.2" x2="1478.75" y2="3741.2" stroke="#ff00ff" stroke-width="8.9"/>
<line x1="1460.95" y1="4329" x2="1478.75" y2="4329" stroke="#ff00ff" stroke-width="8.9"/>
<polygon points="1469.85,3731.85 1461.75,3745.88 1477.95,3745.88" fill="#fff" stroke="#ff00ff" stroke-width="2.3" stroke-linejoin="miter"/>
<polygon points="1469.85,4338.35 1461.75,4324.32 1477.95,4324.32" fill="#fff" stroke="#ff00ff" stroke-width="2.3" stroke-linejoin="miter"/>
<rect x="228.55" y="4213.19" width="25.7" height="8.9" rx="2.6" fill="#000"/>
<rect x="228.55" y="3992.38" width="25.7" height="8.9" rx="2.6" fill="#000"/>
<rect x="228.55" y="3771.57" width="25.7" height="8.9" rx="2.6" fill="#000"/>
<rect x="228.55" y="3550.76" width="25.7" height="8.9" rx="2.6" fill="#000"/>
<rect x="228.55" y="4323.6" width="14.6" height="8.9" rx="2.6" fill="#000"/>
<rect x="228.55" y="4102.78" width="14.6" height="8.9" rx="2.6" fill="#000"/>
<rect x="228.55" y="3881.97" width="14.6" height="8.9" rx="2.6" fill="#000"/>
<rect x="228.55" y="3661.17" width="14.6" height="8.9" rx="2.6" fill="#000"/>
<rect x="228.55" y="3440.36" width="14.6" height="8.9" rx="2.6" fill="#000"/>
<rect x="277.95" y="4412.75" width="8.9" height="25.7" rx="2.6" fill="#000"/>
<rect x="385.9" y="4412.75" width="8.9" height="25.7" rx="2.6" fill="#000"/>
<rect x="493.85" y="4412.75" width="8.9" height="25.7" rx="2.6" fill="#000"/>
<rect x="601.8" y="4412.75" width="8.9" height="25.7" rx="2.6" fill="#000"/>
<rect x="709.75" y="4412.75" width="8.9" height="25.7" rx="2.6" fill="#000"/>
<rect x="817.7" y="4412.75" width="8.9" height="25.7" rx="2.6" fill="#000"/>
<rect x="925.65" y="4412.75" width="8.9" height="25.7" rx="2.6" fill="#000"/>
<rect x="1033.6" y="4412.75" width="8.9" height="25.7" rx="2.6" fill="#000"/>
<rect x="1141.55" y="4412.75" width="8.9" height="25.7" rx="2.6" fill="#000"/>
<rect x="1249.5" y="4412.75" width="8.9" height="25.7" rx="2.6" fill="#000"/>
<rect x="1357.45" y="4412.75" width="8.9" height="25.7" rx="2.6" fill="#000"/>
<rect x="1465.4" y="4412.75" width="8.9" height="25.7" rx="2.6" fill="#000"/>
<rect x="228.55" y="3334.4" width="1295" height="1104.05" fill="none" stroke="#000" stroke-width="8.9"/>
<text x="243" y="3640.1" fill="#ff8000" font-family='"Liberation Serif", serif' font-weight="bold" font-size="31">0.48448</text>
<text x="351.5" y="4410.5" fill="#ff8000" font-family='"Liberation Serif", serif' font-weight="bold" font-size="31">0.46907</text>
<text x="459.1" y="3894" fill="#ff8000" font-family='"Liberation Serif", serif' font-weight="bold" font-size="31">0.50467</text>
<text x="567.5" y="4214.5" fill="#ff8000" font-family='"Liberation Serif", serif' font-weight="bold" font-size="31">0.50991</text>
<text x="675.2" y="3880.6" fill="#ff8000" font-family='"Liberation Serif", serif' font-weight="bold" font-size="31">0.50763</text>
<text x="783.7" y="4307.9" fill="#ff8000" font-family='"Liberation Serif", serif' font-weight="bold" font-size="31">0.51685</text>
<text x="891.5" y="3861.7" fill="#ff8000" font-family='"Liberation Serif", serif' font-weight="bold" font-size="31">0.50851</text>
<text x="999.2" y="4361" fill="#ff8000" font-family='"Liberation Serif", serif' font-weight="bold" font-size="31">0.51896</text>
<text x="1107.5" y="3858.6" fill="#ff8000" font-family='"Liberation Serif", serif' font-weight="bold" font-size="31">0.50888</text>
<text x="1215.2" y="4358" fill="#ff8000" font-family='"Liberation Serif", serif' font-weight="bold" font-size="31">0.51986</text>
<text x="1323.5" y="3859.4" fill="#ff8000" font-family='"Liberation Serif", serif' font-weight="bold" font-size="31">0.50907</text>
<text x="1399.2" y="4386.4" fill="#ff8000" font-family='"Liberation Serif", serif' font-weight="bold" font-size="31">0.52033</text>
<text x="1890.2" y="3603.6" font-family='"Liberation Serif", serif' font-size="61.3" font-weight="normal" font-style="normal" text-anchor="start">Uplink</text>
<text x="2124.6" y="3603.6" font-family='"Liberation Serif", serif' font-size="61.7" font-weight="normal" font-style="normal" text-anchor="start">Downlink</text>
<text transform="translate(1534.3,3685.9) scale(1.22,1.0)" font-family='"Liberation Serif", serif' font-size="62" font-weight="normal">δ</text>
<text x="1564.8" y="3705.9" font-family='"Liberation Serif", serif' font-size="63" font-weight="normal" font-style="italic" text-anchor="start">syy</text>
<text transform="translate(1643.3,3685.9) scale(1.2,1.0)" font-family='"Liberation Serif", serif' font-size="62" font-weight="normal">=</text>
<text x="1680.1" y="3685.9" font-family='"Liberation Serif", serif' font-size="63" font-weight="normal" font-style="normal" text-anchor="start">0.01m</text>
<rect x="1912.35" y="3638.05" width="125.7" height="62.1" fill="#fff" stroke="#000000" stroke-width="8.9" stroke-linejoin="round"/>
<rect transform="translate(2168.35,3638.05)" width="125.7" height="62.1" fill="url(#hk)" stroke="#000000" stroke-width="8.9" stroke-linejoin="round"/>
<text transform="translate(1534.3,3792.2) scale(1.22,1.0)" font-family='"Liberation Serif", serif' font-size="62" font-weight="normal">δ</text>
<text x="1564.8" y="3812.2" font-family='"Liberation Serif", serif' font-size="63" font-weight="normal" font-style="italic" text-anchor="start">syy</text>
<text transform="translate(1643.3,3792.2) scale(1.2,1.0)" font-family='"Liberation Serif", serif' font-size="62" font-weight="normal">=</text>
<text x="1680.1" y="3792.2" font-family='"Liberation Serif", serif' font-size="63" font-weight="normal" font-style="normal" text-anchor="start">0.03m</text>
<rect x="1920.35" y="3744.35" width="125.7" height="62.1" fill="#fff" stroke="#ff0000" stroke-width="8.9" stroke-linejoin="round"/>
<rect transform="translate(2176.35,3744.35)" width="125.7" height="62.1" fill="url(#hr)" stroke="#ff0000" stroke-width="8.9" stroke-linejoin="round"/>
<text transform="translate(1534.3,3898.5) scale(1.22,1.0)" font-family='"Liberation Serif", serif' font-size="62" font-weight="normal">δ</text>
<text x="1564.8" y="3918.5" font-family='"Liberation Serif", serif' font-size="63" font-weight="normal" font-style="italic" text-anchor="start">syy</text>
<text transform="translate(1643.3,3898.5) scale(1.2,1.0)" font-family='"Liberation Serif", serif' font-size="62" font-weight="normal">=</text>
<text x="1680.1" y="3898.5" font-family='"Liberation Serif", serif' font-size="63" font-weight="normal" font-style="normal" text-anchor="start">0.05m</text>
<rect x="1920.35" y="3850.65" width="125.7" height="62.1" fill="#fff" stroke="#00ff00" stroke-width="8.9" stroke-linejoin="round"/>
<rect transform="translate(2176.35,3850.65)" width="125.7" height="62.1" fill="url(#hg)" stroke="#00ff00" stroke-width="8.9" stroke-linejoin="round"/>
<text transform="translate(1534.3,4004.8) scale(1.22,1.0)" font-family='"Liberation Serif", serif' font-size="62" font-weight="normal">δ</text>
<text x="1564.8" y="4024.8" font-family='"Liberation Serif", serif' font-size="63" font-weight="normal" font-style="italic" text-anchor="start">syy</text>
<text transform="translate(1643.3,4004.8) scale(1.2,1.0)" font-family='"Liberation Serif", serif' font-size="62" font-weight="normal">=</text>
<text x="1680.1" y="4004.8" font-family='"Liberation Serif", serif' font-size="63" font-weight="normal" font-style="normal" text-anchor="start">0.07m</text>
<rect x="1920.35" y="3956.95" width="125.7" height="62.1" fill="#fff" stroke="#0000ff" stroke-width="8.9" stroke-linejoin="round"/>
<rect transform="translate(2176.35,3956.95)" width="125.7" height="62.1" fill="url(#hb)" stroke="#0000ff" stroke-width="8.9" stroke-linejoin="round"/>
<text transform="translate(1534.3,4111.1) scale(1.22,1.0)" font-family='"Liberation Serif", serif' font-size="62" font-weight="normal">δ</text>
<text x="1564.8" y="4131.1" font-family='"Liberation Serif", serif' font-size="63" font-weight="normal" font-style="italic" text-anchor="start">syy</text>
<text transform="translate(1643.3,4111.1) scale(1.2,1.0)" font-family='"Liberation Serif", serif' font-size="62" font-weight="normal">=</text>
<text x="1680.1" y="4111.1" font-family='"Liberation Serif", serif' font-size="63" font-weight="normal" font-style="normal" text-anchor="start">0.09m</text>
<rect x="1920.35" y="4063.25" width="125.7" height="62.1" fill="#fff" stroke="#00ffff" stroke-width="8.9" stroke-linejoin="round"/>
<rect transform="translate(2176.35,4063.25)" width="125.7" height="62.1" fill="url(#hc)" stroke="#00ffff" stroke-width="8.9" stroke-linejoin="round"/>
<text transform="translate(1534.3,4217.4) scale(1.22,1.0)" font-family='"Liberation Serif", serif' font-size="62" font-weight="normal">δ</text>
<text x="1564.8" y="4237.4" font-family='"Liberation Serif", serif' font-size="63" font-weight="normal" font-style="italic" text-anchor="start">syy</text>
<text transform="translate(1643.3,4217.4) scale(1.2,1.0)" font-family='"Liberation Serif", serif' font-size="62" font-weight="normal">=</text>
<text x="1680.1" y="4217.4" font-family='"Liberation Serif", serif' font-size="63" font-weight="normal" font-style="normal" text-anchor="start">0.11m</text>
<rect x="1920.35" y="4169.55" width="125.7" height="62.1" fill="#fff" stroke="#ff00ff" stroke-width="8.9" stroke-linejoin="round"/>
<rect transform="translate(2176.35,4169.55)" width="125.7" height="62.1" fill="url(#hm)" stroke="#ff00ff" stroke-width="8.9" stroke-linejoin="round"/>
</svg></body></html>
